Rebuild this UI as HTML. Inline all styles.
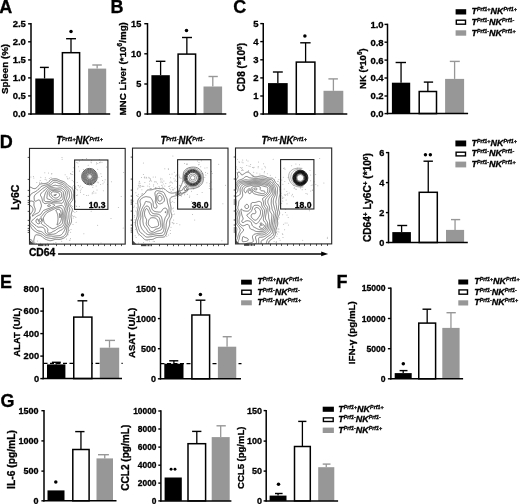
<!DOCTYPE html>
<html><head><meta charset="utf-8"><style>
html,body{margin:0;padding:0;background:#fff;width:520px;height:504px;overflow:hidden}
svg{display:block;filter:grayscale(1)}
text{font-family:"Liberation Sans",sans-serif;fill:#000;stroke:#000;stroke-width:0.3px}
</style></head><body>
<svg width="520" height="504" viewBox="0 0 520 504">
<rect width="520" height="504" fill="#fff"/>
<text x="-0.8" y="12.6" font-size="18" text-anchor="start" font-weight="bold" font-style="normal" >A</text>
<text x="110.5" y="12.7" font-size="18" text-anchor="start" font-weight="bold" font-style="normal" >B</text>
<text x="233.3" y="13.2" font-size="18" text-anchor="start" font-weight="bold" font-style="normal" >C</text>
<text x="-0.2" y="148.4" font-size="18" text-anchor="start" font-weight="bold" font-style="normal" >D</text>
<text x="-0.1" y="288.3" font-size="18" text-anchor="start" font-weight="bold" font-style="normal" >E</text>
<text x="336.5" y="287.9" font-size="18" text-anchor="start" font-weight="bold" font-style="normal" >F</text>
<text x="0.4" y="406.5" font-size="18" text-anchor="start" font-weight="bold" font-style="normal" >G</text>
<line x1="44.55" y1="78.5" x2="44.55" y2="67.4" stroke="#000" stroke-width="1.3" />
<line x1="39.9" y1="67.4" x2="48.8" y2="67.4" stroke="#000" stroke-width="1.4" />
<rect x="35.3" y="78.5" width="18.5" height="35.5" fill="#000"/>
<line x1="71" y1="52.7" x2="71" y2="38.7" stroke="#000" stroke-width="1.3" />
<line x1="66.1" y1="38.7" x2="76" y2="38.7" stroke="#000" stroke-width="1.4" />
<rect x="62.4" y="52.7" width="17.2" height="61.3" fill="#fff" stroke="#000" stroke-width="1.5"/>
<line x1="97.15" y1="68.6" x2="97.15" y2="65" stroke="#979797" stroke-width="1.3" />
<line x1="92.3" y1="65" x2="101.8" y2="65" stroke="#979797" stroke-width="1.4" />
<rect x="88.1" y="68.6" width="18.1" height="45.4" fill="#979797"/>
<line x1="31" y1="23.1" x2="31" y2="114.7" stroke="#000" stroke-width="1.5" />
<line x1="30.3" y1="114" x2="110.2" y2="114" stroke="#000" stroke-width="1.5" />
<line x1="28.1" y1="114" x2="31" y2="114" stroke="#000" stroke-width="1.4" />
<text x="25.9" y="117.4" font-size="9.5" text-anchor="end" font-weight="bold" font-style="normal" >0.0</text>
<line x1="28.1" y1="95.9" x2="31" y2="95.9" stroke="#000" stroke-width="1.4" />
<text x="25.9" y="99.3" font-size="9.5" text-anchor="end" font-weight="bold" font-style="normal" >0.5</text>
<line x1="28.1" y1="77.9" x2="31" y2="77.9" stroke="#000" stroke-width="1.4" />
<text x="25.9" y="81.3" font-size="9.5" text-anchor="end" font-weight="bold" font-style="normal" >1.0</text>
<line x1="28.1" y1="59.9" x2="31" y2="59.9" stroke="#000" stroke-width="1.4" />
<text x="25.9" y="63.3" font-size="9.5" text-anchor="end" font-weight="bold" font-style="normal" >1.5</text>
<line x1="28.1" y1="41.8" x2="31" y2="41.8" stroke="#000" stroke-width="1.4" />
<text x="25.9" y="45.2" font-size="9.5" text-anchor="end" font-weight="bold" font-style="normal" >2.0</text>
<line x1="28.1" y1="23.8" x2="31" y2="23.8" stroke="#000" stroke-width="1.4" />
<text x="25.9" y="27.2" font-size="9.5" text-anchor="end" font-weight="bold" font-style="normal" >2.5</text>
<text transform="translate(7.7,68.9) rotate(-90)" font-size="9.8" text-anchor="middle" font-weight="bold">Spleen (%)</text>
<circle cx="71" cy="31.4" r="1.75" fill="#000"/>
<line x1="160.6" y1="75.2" x2="160.6" y2="61.3" stroke="#000" stroke-width="1.3" />
<line x1="155.9" y1="61.3" x2="165.4" y2="61.3" stroke="#000" stroke-width="1.4" />
<rect x="151.4" y="75.2" width="18.4" height="38.8" fill="#000"/>
<line x1="186.85" y1="54.1" x2="186.85" y2="37.5" stroke="#000" stroke-width="1.3" />
<line x1="182" y1="37.5" x2="192" y2="37.5" stroke="#000" stroke-width="1.4" />
<rect x="178.1" y="54.1" width="17.5" height="59.9" fill="#fff" stroke="#000" stroke-width="1.5"/>
<line x1="212.8" y1="86.5" x2="212.8" y2="76.5" stroke="#979797" stroke-width="1.3" />
<line x1="208.5" y1="76.5" x2="217.8" y2="76.5" stroke="#979797" stroke-width="1.4" />
<rect x="203.5" y="86.5" width="18.6" height="27.5" fill="#979797"/>
<line x1="147.5" y1="23" x2="147.5" y2="114.7" stroke="#000" stroke-width="1.5" />
<line x1="146.8" y1="114" x2="226.3" y2="114" stroke="#000" stroke-width="1.5" />
<line x1="144.3" y1="114" x2="147.5" y2="114" stroke="#000" stroke-width="1.4" />
<text x="141.3" y="117.29" font-size="9.2" text-anchor="end" font-weight="bold" font-style="normal" >0</text>
<line x1="144.3" y1="84" x2="147.5" y2="84" stroke="#000" stroke-width="1.4" />
<text x="141.3" y="87.29" font-size="9.2" text-anchor="end" font-weight="bold" font-style="normal" >5</text>
<line x1="144.3" y1="53.8" x2="147.5" y2="53.8" stroke="#000" stroke-width="1.4" />
<text x="141.3" y="57.09" font-size="9.2" text-anchor="end" font-weight="bold" font-style="normal" >10</text>
<line x1="144.3" y1="23.7" x2="147.5" y2="23.7" stroke="#000" stroke-width="1.4" />
<text x="141.3" y="26.99" font-size="9.2" text-anchor="end" font-weight="bold" font-style="normal" >15</text>
<text transform="translate(125.7,68.85) rotate(-90)" font-size="9.8" text-anchor="middle" font-weight="bold">MNC Liver (*10<tspan font-size="6.5" dy="-3.6">6</tspan><tspan dy="3.6">/mg)</tspan></text>
<circle cx="186.5" cy="30.5" r="1.75" fill="#000"/>
<line x1="277.85" y1="83.1" x2="277.85" y2="72" stroke="#000" stroke-width="1.3" />
<line x1="272.9" y1="72" x2="282.8" y2="72" stroke="#000" stroke-width="1.4" />
<rect x="268" y="83.1" width="19.7" height="30.9" fill="#000"/>
<line x1="305.6" y1="62.1" x2="305.6" y2="42.8" stroke="#000" stroke-width="1.3" />
<line x1="300.2" y1="42.8" x2="310.6" y2="42.8" stroke="#000" stroke-width="1.4" />
<rect x="296.3" y="62.1" width="18.6" height="51.9" fill="#fff" stroke="#000" stroke-width="1.5"/>
<line x1="333.4" y1="90.8" x2="333.4" y2="78.9" stroke="#979797" stroke-width="1.3" />
<line x1="328.4" y1="78.9" x2="337.9" y2="78.9" stroke="#979797" stroke-width="1.4" />
<rect x="323.5" y="90.8" width="19.8" height="23.2" fill="#979797"/>
<line x1="263.25" y1="22.9" x2="263.25" y2="114.7" stroke="#000" stroke-width="1.5" />
<line x1="262.55" y1="114" x2="347.3" y2="114" stroke="#000" stroke-width="1.5" />
<line x1="260.25" y1="114" x2="263.25" y2="114" stroke="#000" stroke-width="1.4" />
<text x="258.65" y="117.4" font-size="9.5" text-anchor="end" font-weight="bold" font-style="normal" >0</text>
<line x1="260.25" y1="96" x2="263.25" y2="96" stroke="#000" stroke-width="1.4" />
<text x="258.65" y="99.4" font-size="9.5" text-anchor="end" font-weight="bold" font-style="normal" >1</text>
<line x1="260.25" y1="77.9" x2="263.25" y2="77.9" stroke="#000" stroke-width="1.4" />
<text x="258.65" y="81.3" font-size="9.5" text-anchor="end" font-weight="bold" font-style="normal" >2</text>
<line x1="260.25" y1="59.8" x2="263.25" y2="59.8" stroke="#000" stroke-width="1.4" />
<text x="258.65" y="63.2" font-size="9.5" text-anchor="end" font-weight="bold" font-style="normal" >3</text>
<line x1="260.25" y1="41.6" x2="263.25" y2="41.6" stroke="#000" stroke-width="1.4" />
<text x="258.65" y="45" font-size="9.5" text-anchor="end" font-weight="bold" font-style="normal" >4</text>
<line x1="260.25" y1="23.6" x2="263.25" y2="23.6" stroke="#000" stroke-width="1.4" />
<text x="258.65" y="27" font-size="9.5" text-anchor="end" font-weight="bold" font-style="normal" >5</text>
<text transform="translate(245.2,67.2) rotate(-90)" font-size="10.1" text-anchor="middle" font-weight="bold">CD8 (*10<tspan font-size="6.5" dy="-3.6">6</tspan><tspan dy="3.6">)</tspan></text>
<circle cx="304.9" cy="36" r="1.75" fill="#000"/>
<line x1="401.05" y1="82.7" x2="401.05" y2="62.5" stroke="#000" stroke-width="1.3" />
<line x1="395.6" y1="62.5" x2="406" y2="62.5" stroke="#000" stroke-width="1.4" />
<rect x="391.9" y="82.7" width="18.3" height="30.9" fill="#000"/>
<line x1="427.85" y1="91.5" x2="427.85" y2="82.1" stroke="#000" stroke-width="1.3" />
<line x1="423.8" y1="82.1" x2="433.1" y2="82.1" stroke="#000" stroke-width="1.4" />
<rect x="419.2" y="91.5" width="17.3" height="22.1" fill="#fff" stroke="#000" stroke-width="1.5"/>
<line x1="454.6" y1="78.9" x2="454.6" y2="61.4" stroke="#979797" stroke-width="1.3" />
<line x1="449.8" y1="61.4" x2="459.8" y2="61.4" stroke="#979797" stroke-width="1.4" />
<rect x="445.1" y="78.9" width="19" height="34.7" fill="#979797"/>
<line x1="387.5" y1="23.7" x2="387.5" y2="114.3" stroke="#000" stroke-width="1.5" />
<line x1="386.8" y1="113.6" x2="468.1" y2="113.6" stroke="#000" stroke-width="1.5" />
<line x1="384.5" y1="113.6" x2="387.5" y2="113.6" stroke="#000" stroke-width="1.4" />
<text x="383.6" y="117" font-size="9.5" text-anchor="end" font-weight="bold" font-style="normal" >0.0</text>
<line x1="384.5" y1="96" x2="387.5" y2="96" stroke="#000" stroke-width="1.4" />
<text x="383.6" y="99.4" font-size="9.5" text-anchor="end" font-weight="bold" font-style="normal" >0.2</text>
<line x1="384.5" y1="78" x2="387.5" y2="78" stroke="#000" stroke-width="1.4" />
<text x="383.6" y="81.4" font-size="9.5" text-anchor="end" font-weight="bold" font-style="normal" >0.4</text>
<line x1="384.5" y1="60.1" x2="387.5" y2="60.1" stroke="#000" stroke-width="1.4" />
<text x="383.6" y="63.5" font-size="9.5" text-anchor="end" font-weight="bold" font-style="normal" >0.6</text>
<line x1="384.5" y1="42.2" x2="387.5" y2="42.2" stroke="#000" stroke-width="1.4" />
<text x="383.6" y="45.6" font-size="9.5" text-anchor="end" font-weight="bold" font-style="normal" >0.8</text>
<line x1="384.5" y1="24.4" x2="387.5" y2="24.4" stroke="#000" stroke-width="1.4" />
<text x="383.6" y="27.8" font-size="9.5" text-anchor="end" font-weight="bold" font-style="normal" >1.0</text>
<text transform="translate(365.7,68.6) rotate(-90)" font-size="9.5" text-anchor="middle" font-weight="bold">NK (*10<tspan font-size="6.5" dy="-3.6">6</tspan><tspan dy="3.6">)</tspan></text>
<rect x="455.6" y="9.2" width="10.6" height="5.3" fill="#000"/>
<text x="471.5" y="14.3" font-size="9.0" font-weight="bold" font-style="italic" text-anchor="start">T<tspan font-size="5.3" dy="-2.95">Prf1+</tspan><tspan dy="2.95">NK</tspan><tspan font-size="5.3" dy="-2.95">Prf1+</tspan></text>
<rect x="456.3" y="20.2" width="9.2" height="4" fill="#fff" stroke="#000" stroke-width="1.4"/>
<text x="471.5" y="24.7" font-size="9.0" font-weight="bold" font-style="italic" text-anchor="start">T<tspan font-size="5.3" dy="-2.95">Prf1-</tspan><tspan dy="2.95">NK</tspan><tspan font-size="5.3" dy="-2.95">Prf1-</tspan></text>
<rect x="455.6" y="30.3" width="10.6" height="5.4" fill="#979797"/>
<text x="471.5" y="35.5" font-size="9.0" font-weight="bold" font-style="italic" text-anchor="start">T<tspan font-size="5.3" dy="-2.95">Prf1-</tspan><tspan dy="2.95">NK</tspan><tspan font-size="5.3" dy="-2.95">Prf1+</tspan></text>
<defs>
<clipPath id="cp0"><rect x="29.5" y="148.4" width="95.7" height="95.7"/></clipPath>
<clipPath id="cp1"><rect x="132.5" y="148.1" width="95.5" height="96.1"/></clipPath>
<clipPath id="cp2"><rect x="235.5" y="148.0" width="96.2" height="95.9"/></clipPath>
</defs>
<g fill="#b0b0b0" clip-path="url(#cp0)"><circle cx="95.9" cy="181.9" r="0.5"/><circle cx="103.3" cy="190.7" r="0.5"/><circle cx="75.6" cy="186.3" r="0.5"/><circle cx="93.0" cy="185.4" r="0.5"/><circle cx="69.4" cy="230.3" r="0.5"/><circle cx="71.3" cy="205.4" r="0.5"/><circle cx="78.5" cy="185.7" r="0.5"/><circle cx="100.7" cy="162.0" r="0.5"/><circle cx="70.5" cy="238.5" r="0.5"/><circle cx="69.4" cy="177.9" r="0.5"/><circle cx="91.6" cy="160.6" r="0.5"/><circle cx="98.2" cy="182.7" r="0.5"/><circle cx="76.6" cy="206.5" r="0.5"/><circle cx="72.7" cy="174.5" r="0.5"/><circle cx="36.3" cy="243.5" r="0.5"/><circle cx="91.0" cy="162.1" r="0.5"/><circle cx="74.8" cy="216.3" r="0.5"/><circle cx="70.5" cy="173.8" r="0.5"/><circle cx="77.2" cy="182.5" r="0.5"/><circle cx="97.6" cy="225.2" r="0.5"/><circle cx="76.1" cy="205.9" r="0.5"/><circle cx="107.5" cy="184.5" r="0.5"/><circle cx="71.3" cy="174.3" r="0.5"/><circle cx="75.2" cy="202.1" r="0.5"/><circle cx="77.9" cy="162.9" r="0.5"/><circle cx="118.4" cy="207.4" r="0.5"/><circle cx="66.5" cy="238.9" r="0.5"/><circle cx="73.8" cy="185.6" r="0.5"/><circle cx="36.8" cy="182.5" r="0.5"/><circle cx="76.9" cy="189.6" r="0.5"/><circle cx="74.9" cy="212.2" r="0.5"/><circle cx="74.6" cy="192.4" r="0.5"/><circle cx="47.7" cy="243.3" r="0.5"/><circle cx="91.3" cy="162.7" r="0.5"/><circle cx="76.4" cy="195.6" r="0.5"/><circle cx="76.1" cy="222.2" r="0.5"/><circle cx="70.7" cy="173.4" r="0.5"/><circle cx="83.9" cy="233.7" r="0.5"/><circle cx="75.9" cy="187.8" r="0.5"/><circle cx="48.5" cy="173.1" r="0.5"/><circle cx="79.3" cy="206.4" r="0.5"/><circle cx="62.1" cy="159.2" r="0.5"/><circle cx="91.4" cy="185.4" r="0.5"/><circle cx="93.3" cy="169.3" r="0.5"/><circle cx="72.5" cy="215.8" r="0.5"/><circle cx="70.1" cy="240.1" r="0.5"/><circle cx="97.8" cy="163.6" r="0.5"/><circle cx="80.4" cy="190.8" r="0.5"/><circle cx="86.5" cy="158.5" r="0.5"/><circle cx="39.7" cy="182.3" r="0.5"/><circle cx="78.6" cy="166.7" r="0.5"/><circle cx="72.8" cy="171.7" r="0.5"/><circle cx="96.1" cy="186.0" r="0.5"/><circle cx="73.0" cy="224.6" r="0.5"/><circle cx="83.4" cy="169.4" r="0.5"/><circle cx="82.3" cy="159.6" r="0.5"/><circle cx="92.2" cy="193.8" r="0.5"/><circle cx="73.3" cy="167.8" r="0.5"/><circle cx="71.0" cy="229.6" r="0.5"/><circle cx="67.7" cy="178.2" r="0.5"/><circle cx="66.9" cy="176.8" r="0.5"/><circle cx="76.7" cy="211.6" r="0.5"/><circle cx="61.7" cy="241.2" r="0.5"/><circle cx="96.5" cy="162.7" r="0.5"/><circle cx="72.5" cy="206.4" r="0.5"/><circle cx="65.1" cy="174.8" r="0.5"/><circle cx="73.7" cy="216.5" r="0.5"/><circle cx="45.1" cy="179.5" r="0.5"/><circle cx="101.0" cy="243.0" r="0.5"/><circle cx="77.6" cy="189.9" r="0.5"/><circle cx="67.9" cy="179.0" r="0.5"/><circle cx="77.5" cy="195.0" r="0.5"/><circle cx="79.4" cy="160.9" r="0.5"/><circle cx="106.5" cy="166.9" r="0.5"/><circle cx="79.4" cy="187.1" r="0.5"/><circle cx="33.8" cy="178.1" r="0.5"/><circle cx="88.2" cy="165.3" r="0.5"/><circle cx="39.6" cy="183.5" r="0.5"/><circle cx="75.3" cy="187.9" r="0.5"/><circle cx="53.7" cy="243.2" r="0.5"/><circle cx="111.0" cy="218.5" r="0.5"/><circle cx="30.9" cy="177.0" r="0.5"/><circle cx="105.1" cy="179.8" r="0.5"/><circle cx="93.7" cy="191.2" r="0.5"/><circle cx="102.0" cy="162.2" r="0.5"/><circle cx="35.0" cy="242.8" r="0.5"/><circle cx="51.8" cy="173.5" r="0.5"/><circle cx="44.8" cy="172.7" r="0.5"/><circle cx="45.3" cy="177.8" r="0.5"/><circle cx="99.9" cy="162.8" r="0.5"/><circle cx="72.3" cy="186.9" r="0.5"/><circle cx="92.3" cy="192.8" r="0.5"/><circle cx="97.7" cy="169.3" r="0.5"/><circle cx="100.9" cy="173.7" r="0.5"/><circle cx="98.8" cy="177.3" r="0.5"/><circle cx="69.4" cy="240.2" r="0.5"/><circle cx="97.9" cy="182.1" r="0.5"/><circle cx="76.8" cy="162.4" r="0.5"/><circle cx="104.1" cy="181.9" r="0.5"/><circle cx="75.9" cy="217.5" r="0.5"/><circle cx="49.3" cy="178.6" r="0.5"/><circle cx="82.7" cy="159.4" r="0.5"/><circle cx="99.6" cy="162.6" r="0.5"/><circle cx="93.9" cy="192.9" r="0.5"/><circle cx="78.1" cy="185.5" r="0.5"/><circle cx="62.0" cy="157.4" r="0.5"/><circle cx="96.4" cy="164.0" r="0.5"/><circle cx="94.1" cy="180.8" r="0.5"/><circle cx="40.5" cy="243.2" r="0.5"/><circle cx="72.2" cy="180.4" r="0.5"/><circle cx="72.5" cy="187.1" r="0.5"/><circle cx="99.3" cy="159.8" r="0.5"/><circle cx="97.0" cy="189.9" r="0.5"/><circle cx="80.5" cy="192.3" r="0.5"/><circle cx="41.7" cy="182.4" r="0.5"/><circle cx="68.1" cy="234.7" r="0.5"/><circle cx="102.6" cy="180.4" r="0.5"/><circle cx="91.2" cy="211.2" r="0.5"/><circle cx="79.4" cy="171.0" r="0.5"/><circle cx="37.5" cy="240.9" r="0.5"/><circle cx="51.7" cy="174.0" r="0.5"/><circle cx="86.1" cy="209.6" r="0.5"/><circle cx="82.7" cy="187.6" r="0.5"/><circle cx="95.9" cy="193.1" r="0.5"/><circle cx="51.0" cy="177.6" r="0.5"/><circle cx="74.4" cy="175.5" r="0.5"/><circle cx="73.5" cy="211.2" r="0.5"/><circle cx="46.7" cy="180.0" r="0.5"/><circle cx="111.4" cy="181.7" r="0.5"/><circle cx="80.7" cy="186.1" r="0.5"/><circle cx="40.8" cy="177.2" r="0.5"/><circle cx="81.1" cy="188.9" r="0.5"/><circle cx="103.0" cy="183.8" r="0.5"/><circle cx="75.4" cy="201.0" r="0.5"/><circle cx="73.4" cy="181.8" r="0.5"/><circle cx="123.2" cy="227.9" r="0.5"/><circle cx="73.2" cy="217.9" r="0.5"/><circle cx="101.6" cy="176.5" r="0.5"/><circle cx="55.9" cy="242.5" r="0.5"/><circle cx="40.2" cy="180.6" r="0.5"/><circle cx="100.6" cy="184.4" r="0.5"/><circle cx="75.6" cy="188.5" r="0.5"/><circle cx="33.4" cy="176.6" r="0.5"/><circle cx="88.3" cy="195.2" r="0.5"/><circle cx="121.2" cy="196.5" r="0.5"/><circle cx="123.7" cy="172.5" r="0.5"/><circle cx="70.6" cy="232.2" r="0.5"/><circle cx="83.8" cy="194.5" r="0.5"/><circle cx="92.8" cy="187.3" r="0.5"/><circle cx="86.6" cy="195.6" r="0.5"/></g>
<path clip-path="url(#cp0)" d="M26.5,199.7L26.7,199.1L26.9,198.7L27.1,198.1L27.2,197.7L27.5,197.1L27.6,196.7L27.8,196.2L28.0,195.7L28.2,195.4L28.4,194.7L28.6,194.4L28.8,193.7L29.0,193.4L29.2,192.8L29.3,192.4L29.5,191.7L29.5,191.4L29.6,190.7L29.6,190.1L29.5,189.4L29.5,189.1L29.3,188.4L29.3,187.7L29.6,187.4L30.2,187.2L30.8,187.3L31.2,187.5L31.7,187.7L32.2,188.0L32.5,188.2L33.0,188.4L33.5,188.5L34.2,188.6L34.8,188.6L35.5,188.4L35.8,188.3L36.2,188.1L36.6,187.7L37.0,187.4L37.3,187.1L37.6,186.7L37.9,186.4L38.2,186.0L38.5,185.6L38.8,185.2L39.2,184.9L39.5,184.6L39.8,184.4L40.4,184.1L40.8,183.9L41.5,183.8L42.1,183.7L42.5,183.7L43.2,183.7L43.8,183.6L44.5,183.6L45.2,183.5L45.7,183.4L46.2,183.3L46.8,183.1L47.2,183.0L47.8,182.7L48.2,182.5L48.5,182.2L48.8,181.9L49.2,181.5L49.4,181.1L49.7,180.7L49.9,180.4L50.2,180.1L50.5,179.7L51.0,179.4L51.5,179.2L52.0,179.1L52.5,179.0L53.2,178.9L53.8,178.9L54.5,178.8L55.2,178.8L55.8,178.8L56.5,178.9L57.1,179.1L57.5,179.2L58.0,179.4L58.5,179.6L58.8,179.8L59.5,180.1L59.8,180.2L60.2,180.4L60.8,180.6L61.2,180.7L61.8,181.0L62.2,181.1L62.8,181.3L63.2,181.4L63.8,181.7L64.2,181.9L64.5,182.1L64.9,182.4L65.3,182.7L65.7,183.1L66.1,183.4L66.4,183.7L66.7,184.1L67.0,184.4L67.3,184.7L67.7,185.1L68.1,185.4L68.5,185.7L68.8,186.0L69.2,186.2L69.5,186.4L70.1,186.7L70.5,187.0L70.8,187.2L71.2,187.5L71.5,187.8L71.8,188.1L72.2,188.5L72.5,189.0L72.7,189.4L72.9,189.7L73.2,190.4L73.3,190.7L73.4,191.4L73.5,191.8L73.6,192.4L73.6,193.1L73.7,193.7L73.6,194.4L73.6,195.1L73.5,195.7L73.5,196.1L73.4,196.7L73.3,197.4L73.2,198.1L73.1,198.4L73.0,199.1L72.8,199.5L72.6,200.1L72.4,200.4L72.2,200.8L71.8,201.2L71.5,201.5L71.2,201.9L70.8,202.2L70.5,202.7L70.2,203.1L70.1,203.4L69.9,204.1L69.9,204.7L70.0,205.4L70.2,205.7L70.5,206.3L70.8,206.7L71.1,207.1L71.4,207.4L71.7,207.7L71.9,208.1L72.2,208.5L72.3,209.1L72.4,209.7L72.3,210.4L72.2,210.9L72.0,211.4L71.8,212.0L71.7,212.4L71.5,213.1L71.4,213.4L71.3,214.1L71.2,214.7L71.1,215.1L71.1,215.7L71.0,216.4L71.1,217.1L71.1,217.7L71.2,218.1L71.3,218.7L71.4,219.4L71.5,220.1L71.5,220.4L71.5,221.0L71.5,221.4L71.3,222.1L71.2,222.5L70.9,223.1L70.8,223.4L70.5,224.0L70.3,224.4L70.1,224.7L69.8,225.2L69.5,225.7L69.3,226.1L69.1,226.4L68.8,226.9L68.6,227.4L68.5,227.8L68.3,228.4L68.2,229.1L68.2,229.7L68.2,230.4L68.2,231.0L68.1,231.4L68.1,232.1L67.9,232.7L67.8,233.1L67.6,233.7L67.5,234.1L67.2,234.7L67.0,235.1L66.8,235.4L66.5,235.9L66.2,236.3L65.8,236.7L65.5,237.0L65.2,237.3L64.8,237.5L64.5,237.7L63.9,238.1L63.5,238.2L63.1,238.4L62.5,238.6L62.2,238.8L61.5,239.0L61.2,239.1L60.5,239.3L60.1,239.4L59.5,239.5L58.8,239.5L58.2,239.5L57.5,239.4L57.1,239.4L56.5,239.4L55.8,239.4L55.5,239.4L54.8,239.5L54.2,239.7L53.8,239.8L53.2,240.0L52.8,240.1L52.2,240.4L51.8,240.5L51.2,240.6L50.5,240.7L49.8,240.7L49.2,240.6L48.6,240.4L48.2,240.3L47.6,240.1L47.2,239.9L46.7,239.7L46.2,239.5L45.8,239.4L45.2,239.1L44.8,238.8L44.5,238.6L44.2,238.4L43.7,238.1L43.4,237.7L43.0,237.4L42.6,237.1L42.2,236.7L41.8,236.4L41.5,236.2L41.2,236.0L40.6,235.7L40.2,235.5L39.8,235.4L39.2,235.2L38.6,235.1L38.2,235.0L37.5,234.9L36.8,234.8L36.2,234.8L35.5,235.1L35.2,235.4L35.0,235.7L34.8,236.1L34.7,236.7L34.5,237.4L34.4,237.7L34.2,238.4L34.2,238.7L34.0,239.4L33.9,240.1L33.8,240.6L33.8,241.1L33.8,241.7L33.8,242.1L33.9,242.7L34.0,243.4L34.0,244.1L34.0,244.7L33.9,245.4L33.8,245.8L33.7,246.4L33.5,246.9L33.2,247.4 M26.5,241.4L26.8,241.1L27.2,240.7L27.5,240.4L27.7,240.1L28.0,239.7L28.2,239.3L28.4,238.7L28.4,238.1L28.4,237.4L28.2,236.8L28.0,236.4L27.8,235.8L27.7,235.4L27.6,234.7L27.6,234.1L27.8,233.4L27.9,233.1L28.1,232.4L28.2,232.1L28.5,231.4L28.6,231.1L28.8,230.5L29.0,230.1L29.2,229.6L29.3,229.1L29.4,228.4L29.3,227.7L29.2,227.1L29.1,226.7L28.9,226.1L28.7,225.7L28.5,225.3L28.2,224.7L28.1,224.4L27.8,223.8L27.7,223.4L27.6,222.7L27.5,222.1L27.6,221.4L27.7,220.7L27.8,220.2L28.0,219.7L28.1,219.1L28.2,218.7L28.2,218.1L28.2,217.4L28.1,217.1L27.9,216.4L27.7,216.1L27.5,215.6L27.2,215.1L27.0,214.7L26.8,214.4L26.5,213.9 M26.5,204.1L26.6,203.7L26.8,203.1L26.9,202.7L27.1,202.1L27.3,201.7L27.5,201.2L27.7,200.7L27.9,200.4L28.2,199.8L28.4,199.4L28.5,199.1L28.8,198.4L29.0,198.1L29.2,197.6L29.4,197.1L29.5,196.7L29.8,196.1L30.0,195.7L30.2,195.4L30.5,194.9L30.8,194.4L31.2,194.1L31.5,193.7L31.8,193.5L32.2,193.2L32.5,193.1L33.1,192.7L33.5,192.5L33.8,192.4L34.5,192.1L34.8,191.9L35.2,191.7L35.7,191.4L36.2,191.1L36.5,190.9L36.8,190.7L37.2,190.4L37.6,190.1L38.0,189.7L38.4,189.4L38.8,189.1L39.1,188.7L39.4,188.4L39.7,188.1L40.0,187.7L40.3,187.4L40.7,187.1L41.0,186.7L41.5,186.4L41.8,186.2L42.2,186.0L42.8,185.8L43.2,185.7L43.8,185.5L44.2,185.4L44.8,185.2L45.5,185.1L45.8,185.0L46.5,184.8L46.9,184.7L47.5,184.6L48.0,184.4L48.5,184.2L48.9,184.1L49.5,183.7L49.8,183.5L50.2,183.2L50.5,182.8L50.8,182.4L51.1,182.1L51.4,181.7L51.7,181.4L52.2,181.1L52.5,180.9L52.9,180.7L53.5,180.6L54.2,180.4L54.8,180.4L55.2,180.4L55.5,180.4L56.2,180.5L56.8,180.6L57.2,180.7L57.8,181.0L58.2,181.2L58.7,181.4L59.2,181.6L59.5,181.8L60.2,182.0L60.5,182.1L61.2,182.3L61.5,182.4L62.2,182.6L62.5,182.8L63.2,183.1L63.5,183.2L63.8,183.5L64.2,183.7L64.6,184.1L64.9,184.4L65.2,184.7L65.5,185.1L65.8,185.5L66.2,185.9L66.5,186.2L66.8,186.6L67.2,186.9L67.5,187.1L67.9,187.4L68.3,187.7L68.8,188.1L69.2,188.4L69.5,188.7L69.8,189.0L70.1,189.4L70.4,189.7L70.5,190.1L70.8,190.7L71.0,191.1L71.2,191.7L71.3,192.1L71.5,192.7L71.5,193.1L71.7,193.7L71.8,194.4L71.8,195.1L71.8,195.7L71.7,196.4L71.6,197.1L71.5,197.7L71.4,198.1L71.2,198.6L70.9,199.1L70.7,199.4L70.5,199.7L70.2,200.2L69.8,200.6L69.5,201.0L69.2,201.4L69.0,201.7L68.7,202.1L68.5,202.5L68.3,203.1L68.2,203.5L68.1,204.1L68.1,204.7L68.2,205.1L68.4,205.7L68.5,206.1L68.8,206.7L69.0,207.1L69.2,207.5L69.4,208.1L69.6,208.4L69.8,209.1L69.8,209.7L69.7,210.4L69.5,210.9L69.3,211.4L69.2,211.9L69.0,212.4L68.9,213.1L68.9,213.7L68.9,214.4L68.9,215.1L68.9,215.7L68.9,216.4L68.9,217.1L68.9,217.7L69.0,218.4L69.1,219.1L69.2,219.4L69.4,220.1L69.5,220.7L69.5,221.1L69.5,221.7L69.5,222.1L69.3,222.7L69.2,223.2L69.0,223.7L68.8,224.1L68.5,224.6L68.2,225.1L68.0,225.4L67.8,225.8L67.5,226.4L67.3,226.7L67.2,227.1L66.9,227.7L66.8,228.1L66.7,228.7L66.6,229.4L66.5,230.0L66.5,230.4L66.4,231.1L66.3,231.7L66.2,232.4L66.1,232.7L65.8,233.4L65.7,233.7L65.5,234.1L65.2,234.6L64.8,235.0L64.5,235.4L64.2,235.7L63.8,236.0L63.5,236.3L63.2,236.5L62.8,236.7L62.2,237.0L61.8,237.1L61.2,237.4L60.8,237.5L60.2,237.6L59.5,237.7L58.8,237.7L58.2,237.7L57.5,237.7L56.8,237.7L56.2,237.7L55.8,237.8L55.2,237.9L54.5,238.0L54.1,238.1L53.5,238.2L52.8,238.3L52.3,238.4L51.8,238.5L51.2,238.5L50.5,238.4L50.2,238.3L49.5,238.2L48.9,238.1L48.5,238.0L47.8,237.9L47.2,237.8L46.8,237.7L46.2,237.4L45.8,237.3L45.4,237.1L44.9,236.7L44.5,236.4L44.2,236.1L43.8,235.8L43.5,235.5L43.2,235.2L42.8,234.9L42.5,234.7L42.1,234.4L41.5,234.1L41.2,233.9L40.7,233.7L40.2,233.6L39.6,233.4L39.2,233.3L38.5,233.1L38.2,233.0L37.5,232.7L37.2,232.6L36.8,232.4L36.2,232.1L35.8,231.9L35.5,231.6L35.2,231.4L34.7,231.1L34.2,230.7L33.8,230.4L33.5,230.2L33.2,229.9L32.8,229.7L32.5,229.4L32.2,229.0L31.8,228.4L31.6,228.1L31.4,227.7L31.2,227.3L30.8,226.8L30.6,226.4L30.4,226.1L30.1,225.7L29.8,225.3L29.5,224.8L29.3,224.4L29.1,224.1L28.8,223.4L28.7,223.1L28.6,222.4L28.6,221.7L28.6,221.1L28.8,220.4L28.9,220.1L29.0,219.4L29.2,218.8L29.2,218.4L29.3,217.7L29.2,217.1L29.1,216.7L28.9,216.1L28.8,215.7L28.5,215.2L28.2,214.7L28.0,214.4L27.8,214.1L27.5,213.4L27.3,213.1L27.2,212.7L27.0,212.1L26.8,211.7L26.7,211.1L26.5,210.4 M26.5,242.8L26.8,242.4L27.1,242.1L27.5,241.7L27.8,241.4L28.2,241.2L28.5,240.9L28.8,240.6L29.2,240.4L29.7,240.1L30.2,239.7L30.5,239.6L31.2,239.6L31.5,239.9L31.8,240.4L32.0,240.7L32.2,241.1L32.4,241.7L32.5,242.1L32.7,242.7L32.8,243.3L32.9,243.7L33.0,244.4L33.0,245.1L32.9,245.7L32.8,246.1L32.5,246.7L32.3,247.1L32.1,247.4 M55.2,236.1L54.5,236.2L53.8,236.3L53.2,236.3L52.5,236.3L51.8,236.2L51.2,236.1L50.7,236.1L50.2,236.0L49.5,236.0L48.8,235.9L48.2,235.9L47.5,235.8L47.1,235.7L46.5,235.6L46.1,235.4L45.6,235.1L45.2,234.8L44.8,234.5L44.5,234.2L44.2,233.9L43.8,233.5L43.5,233.2L43.2,232.9L42.8,232.6L42.5,232.3L42.2,232.0L41.6,231.7L41.2,231.5L40.6,231.4L40.2,231.3L39.5,231.2L38.9,231.1L38.5,230.9L37.9,230.7L37.5,230.5L37.2,230.3L36.8,230.1L36.4,229.7L36.0,229.4L35.7,229.1L35.4,228.7L35.1,228.4L34.8,228.0L34.5,227.6L34.2,227.2L33.8,226.9L33.5,226.5L33.2,226.2L32.8,225.9L32.5,225.7L32.1,225.4L31.7,225.1L31.2,224.7L30.9,224.4L30.5,224.1L30.3,223.7L30.1,223.4L29.8,222.8L29.7,222.4L29.6,221.7L29.7,221.1L29.8,220.4L29.9,220.1L30.1,219.4L30.2,219.1L30.4,218.4L30.5,217.7L30.4,217.1L30.2,216.4L30.1,216.1L29.8,215.5L29.6,215.1L29.5,214.7L29.2,214.2L28.9,213.7L28.7,213.4L28.5,212.9L28.3,212.4L28.2,212.1L28.0,211.4L27.8,210.8L27.8,210.4L27.7,209.7L27.7,209.1L27.7,208.4L27.7,207.7L27.7,207.1L27.8,206.4L27.8,205.7L27.9,205.4L28.0,204.7L28.1,204.1L28.3,203.7L28.5,203.1L28.7,202.7L28.9,202.4L29.2,202.0L29.5,201.7L29.8,201.4L30.5,201.1L30.8,201.0L31.5,201.0L31.8,201.1L32.5,201.3L32.8,201.4L33.5,201.6L33.8,201.8L34.0,202.4L34.0,203.1L34.0,203.7L33.9,204.4L33.9,205.1L34.0,205.7L34.2,206.2L34.4,206.7L34.5,207.1L34.7,207.7L34.9,208.1L35.1,208.7L35.2,209.2L35.2,209.7L35.2,210.4L35.1,210.7L35.0,211.4L34.8,211.7L34.5,212.4L34.3,212.7L34.1,213.1L33.8,213.4L33.5,213.8L33.2,214.3L32.8,214.7L32.6,215.1L32.5,215.4L32.4,216.1L32.8,216.1L33.2,215.9L33.5,215.6L33.8,215.4L34.2,215.1L34.6,214.7L35.0,214.4L35.5,214.1L35.8,213.9L36.3,213.7L36.8,213.5L37.2,213.3L37.7,213.1L38.2,212.8L38.5,212.6L38.8,212.3L39.2,211.9L39.5,211.4L39.7,211.1L39.8,210.6L40.0,210.1L40.2,209.7L40.4,209.1L40.5,208.7L40.8,208.1L40.9,207.7L41.1,207.1L41.3,206.7L41.4,206.1L41.4,205.4L41.3,204.7L41.2,204.1L41.0,203.7L40.8,203.1L40.7,202.7L40.5,202.1L40.4,201.7L40.2,201.1L40.0,200.7L39.8,200.4L39.4,200.1L38.8,199.9L38.2,200.1L37.8,200.2L37.5,200.4L36.8,200.7L36.5,200.9L35.9,201.1L35.5,201.2L34.8,201.1L34.5,200.7L34.4,200.4L34.3,199.7L34.2,199.1L34.2,198.7L34.1,198.1L34.1,197.4L34.2,197.0L34.3,196.4L34.5,195.9L34.7,195.4L35.0,195.1L35.2,194.7L35.5,194.4L35.9,194.1L36.4,193.7L36.8,193.4L37.2,193.1L37.5,192.9L37.8,192.6L38.2,192.4L38.5,192.1L38.9,191.7L39.3,191.4L39.7,191.1L40.1,190.7L40.5,190.4L40.8,190.1L41.2,189.8L41.5,189.5L41.8,189.3L42.2,189.0L42.5,188.7L43.0,188.4L43.4,188.1L43.8,187.8L44.2,187.6L44.5,187.4L45.0,187.1L45.5,186.8L45.8,186.7L46.4,186.4L46.8,186.2L47.3,186.1L47.8,185.9L48.3,185.7L48.8,185.6L49.4,185.4L49.8,185.2L50.3,185.1L50.8,184.8L51.2,184.6L51.5,184.3L51.8,184.1L52.2,183.7L52.5,183.4L52.9,183.1L53.3,182.7L53.8,182.5L54.2,182.3L54.8,182.2L55.5,182.2L56.2,182.3L56.6,182.4L57.2,182.6L57.5,182.8L58.1,183.1L58.5,183.3L58.8,183.4L59.5,183.6L59.9,183.7L60.5,183.9L61.2,184.0L61.5,184.1L62.2,184.4L62.5,184.5L62.9,184.7L63.3,185.1L63.7,185.4L64.1,185.7L64.4,186.1L64.7,186.4L65.0,186.7L65.3,187.1L65.6,187.4L66.0,187.7L66.4,188.1L66.8,188.4L67.2,188.7L67.5,189.0L67.8,189.4L68.1,189.7L68.4,190.1L68.6,190.4L68.8,191.1L68.9,191.4L69.1,192.1L69.2,192.6L69.2,193.1L69.3,193.7L69.4,194.4L69.5,195.1L69.5,195.7L69.5,196.4L69.4,197.1L69.2,197.7L69.0,198.1L68.8,198.5L68.5,199.1L68.3,199.4L68.1,199.7L67.8,200.2L67.5,200.7L67.4,201.1L67.2,201.5L66.9,202.1L66.8,202.4L66.7,203.1L66.6,203.7L66.6,204.4L66.7,205.1L66.8,205.7L66.9,206.1L67.2,206.7L67.3,207.1L67.5,207.7L67.6,208.1L67.7,208.7L67.7,209.4L67.5,210.1L67.5,210.4L67.3,211.1L67.2,211.4L67.0,212.1L66.8,212.7L66.8,213.1L66.7,213.7L66.7,214.4L66.8,215.1L66.8,215.7L66.8,216.1L66.9,216.7L66.9,217.4L66.9,218.1L67.0,218.7L67.1,219.4L67.2,219.7L67.3,220.4L67.5,221.1L67.5,221.4L67.6,222.1L67.6,222.7L67.5,223.1L67.3,223.7L67.2,224.1L66.9,224.7L66.7,225.1L66.5,225.5L66.2,226.1L66.1,226.4L65.8,227.0L65.6,227.4L65.5,227.8L65.3,228.4L65.1,228.7L64.9,229.4L64.8,229.7L64.5,230.4L64.3,230.7L64.2,231.1L63.8,231.6L63.5,232.1L63.3,232.4L63.1,232.7L62.8,233.1L62.5,233.5L62.2,233.9L61.8,234.3L61.5,234.6L61.2,234.9L60.8,235.1L60.2,235.4L59.8,235.5L59.2,235.7L58.6,235.7L58.2,235.8L57.5,235.8L56.8,235.9L56.2,235.9L55.5,236.0L55.2,236.1 M49.2,206.4L49.8,206.2L50.2,206.0L50.5,205.7L50.5,205.3L50.2,205.0L49.5,204.8L48.8,204.8L48.2,205.0L47.8,205.3L47.5,205.7L47.8,206.3L48.2,206.4L48.8,206.4L49.2,206.4 M28.2,247.4L27.8,247.2L27.5,246.9L27.2,246.6L26.9,246.1L26.7,245.7L26.6,245.1L26.7,244.4L26.8,243.9L27.1,243.4L27.3,243.1L27.6,242.7L28.0,242.4L28.5,242.1L28.8,241.9L29.2,241.7L29.8,241.6L30.5,241.7L30.8,241.9L31.2,242.2L31.5,242.6L31.7,243.1L31.9,243.4L32.0,244.1L32.1,244.7L32.0,245.4L31.8,246.0L31.6,246.4L31.4,246.7L31.1,247.1L30.5,247.4 M50.5,234.4L49.8,234.4L49.2,234.4L48.6,234.4L48.2,234.3L47.5,234.2L47.1,234.1L46.5,233.7L46.2,233.4L45.8,233.1L45.6,232.7L45.4,232.4L45.2,231.7L45.1,231.4L45.1,230.7L45.0,230.1L44.8,229.5L44.6,229.1L44.4,228.7L44.2,228.4L43.8,228.1L43.3,227.7L42.8,227.5L42.5,227.4L41.8,227.2L41.2,227.1L40.8,227.1L40.5,227.1L39.8,227.1L39.2,227.2L38.5,227.2L38.1,227.1L37.5,226.8L37.2,226.6L36.8,226.4L36.5,226.1L36.1,225.7L35.6,225.4L35.2,225.1L34.8,224.8L34.5,224.5L34.2,224.3L33.8,224.0L33.4,223.7L33.0,223.4L32.5,223.1L32.2,222.8L31.8,222.4L31.6,222.1L31.5,221.7L31.5,221.3L31.8,220.7L32.1,220.4L32.5,220.1L32.8,219.9L33.2,219.6L33.5,219.3L33.8,219.0L34.2,218.7L34.5,218.4L34.8,218.0L35.2,217.7L35.5,217.4L35.9,217.1L36.3,216.7L36.7,216.4L37.2,216.1L37.5,215.9L37.9,215.7L38.5,215.4L38.8,215.3L39.4,215.1L39.8,214.8L40.2,214.6L40.5,214.4L40.9,214.1L41.2,213.7L41.5,213.3L41.8,212.7L42.0,212.4L42.2,212.1L42.5,211.6L42.8,211.2L43.2,210.8L43.5,210.6L43.8,210.3L44.4,210.1L44.8,209.9L45.3,209.7L45.8,209.5L46.2,209.4L46.8,209.1L47.2,209.0L47.8,208.8L48.2,208.6L48.8,208.4L49.2,208.3L49.8,208.1L50.2,207.9L50.7,207.7L51.2,207.6L51.6,207.4L52.2,207.1L52.5,207.0L52.9,206.7L53.5,206.4L53.8,206.2L54.2,205.9L54.5,205.5L54.6,205.1L54.4,204.7L53.8,204.4L53.5,204.3L53.1,204.1L52.5,203.9L52.2,203.7L51.5,203.5L51.2,203.4L50.5,203.2L49.8,203.1L49.5,203.0L48.8,203.0L48.2,203.0L47.8,203.1L47.2,203.2L46.5,203.4L46.2,203.5L45.5,203.6L44.8,203.5L44.3,203.4L43.8,203.1L43.5,202.8L43.2,202.4L42.9,202.1L42.8,201.7L42.5,201.1L42.4,200.7L42.3,200.1L42.2,199.5L42.1,199.1L41.9,198.4L41.8,198.0L41.6,197.4L41.4,197.1L41.2,196.6L40.8,196.1L40.6,195.7L40.5,195.4L40.5,194.7L40.5,194.4L40.8,193.8L41.1,193.4L41.4,193.1L41.7,192.7L42.1,192.4L42.4,192.1L42.8,191.7L43.2,191.4L43.5,191.2L43.8,190.9L44.2,190.5L44.5,190.2L44.8,189.9L45.2,189.6L45.5,189.2L45.8,188.9L46.2,188.6L46.5,188.3L46.8,188.0L47.2,187.7L47.8,187.4L48.2,187.3L48.6,187.1L49.2,186.9L49.7,186.7L50.2,186.6L50.8,186.4L51.2,186.4L51.8,186.2L52.2,186.1L52.8,185.9L53.2,185.7L53.8,185.5L54.2,185.4L54.8,185.3L55.5,185.2L56.2,185.4L56.5,185.5L57.2,185.6L57.8,185.7L58.2,185.8L58.8,185.8L59.5,185.8L60.2,185.8L60.8,185.9L61.5,186.1L61.8,186.2L62.2,186.4L62.7,186.7L63.2,187.1L63.5,187.3L63.8,187.6L64.2,188.0L64.5,188.3L64.8,188.6L65.2,188.9L65.5,189.2L65.8,189.5L66.2,189.8L66.5,190.2L66.8,190.7L67.0,191.1L67.2,191.6L67.3,192.1L67.3,192.7L67.3,193.4L67.3,194.1L67.2,194.7L67.2,195.1L67.1,195.7L67.0,196.4L66.8,196.9L66.7,197.4L66.5,198.1L66.4,198.4L66.2,199.1L66.1,199.4L65.9,200.1L65.8,200.4L65.6,201.1L65.5,201.4L65.3,202.1L65.2,202.5L65.0,203.1L64.9,203.7L64.9,204.4L65.0,205.1L65.2,205.6L65.3,206.1L65.5,206.5L65.7,207.1L65.8,207.4L66.0,208.1L66.1,208.7L66.1,209.4L66.0,210.1L65.8,210.5L65.7,211.1L65.5,211.6L65.4,212.1L65.2,212.7L65.2,213.2L65.1,213.7L65.1,214.4L65.2,214.7L65.2,215.4L65.3,216.1L65.3,216.7L65.4,217.4L65.4,218.1L65.4,218.7L65.5,219.4L65.5,219.7L65.7,220.4L65.8,221.1L65.8,221.4L65.9,222.1L65.9,222.7L65.8,223.3L65.7,223.7L65.5,224.4L65.4,224.7L65.2,225.3L64.9,225.7L64.8,226.1L64.5,226.6L64.2,227.1L64.1,227.4L63.8,227.8L63.5,228.2L63.2,228.6L62.8,229.0L62.5,229.3L62.2,229.5L61.8,229.7L61.2,230.1L60.8,230.2L60.5,230.4L59.8,230.7L59.5,230.9L59.2,231.1L58.7,231.4L58.2,231.7L57.8,232.1L57.5,232.3L57.2,232.6L56.8,232.8L56.5,233.1L55.9,233.4L55.5,233.6L55.2,233.7L54.5,233.9L54.0,234.1L53.5,234.2L52.8,234.2L52.2,234.3L51.5,234.3L50.8,234.4L50.5,234.4 M30.5,214.4L30.2,213.7L30.0,213.4L29.8,213.1L29.5,212.4L29.4,212.1L29.2,211.4L29.1,211.1L29.0,210.4L28.9,209.7L29.0,209.1L29.0,208.4L29.2,207.8L29.3,207.4L29.5,206.8L29.7,206.4L29.9,206.1L30.2,205.7L30.8,205.7L31.2,205.9L31.5,206.2L31.8,206.7L32.1,207.1L32.3,207.4L32.5,207.7L32.8,208.4L32.9,208.7L33.0,209.4L32.9,210.1L32.8,210.5L32.6,211.1L32.4,211.4L32.2,211.8L31.8,212.3L31.6,212.7L31.3,213.1L31.1,213.4L30.8,213.8L30.5,214.4 M40.9,221.4L41.3,221.1L41.5,220.7L41.6,220.1L41.5,219.7L41.2,219.1L40.8,218.8L40.5,218.7L39.9,218.7L39.5,218.9L39.2,219.4L39.1,219.7L39.1,220.4L39.3,220.7L39.5,221.1L39.9,221.4L40.5,221.6L40.9,221.4 M30.2,246.5L29.5,246.6L28.8,246.5L28.5,246.4L28.1,246.1L27.8,245.7L27.6,245.1L27.6,244.4L27.8,243.8L28.1,243.4L28.5,243.1L28.8,242.9L29.2,242.7L29.8,242.7L30.2,242.8L30.6,243.1L30.9,243.4L31.2,244.0L31.2,244.4L31.2,245.1L31.1,245.4L30.8,245.9L30.5,246.2L30.2,246.5 M62.2,203.1L61.5,203.3L60.8,203.3L60.2,203.1L59.8,203.1L59.2,203.0L58.5,203.0L57.8,203.0L57.2,203.0L56.5,203.0L55.8,203.0L55.2,203.0L54.5,202.9L53.8,202.8L53.3,202.7L52.8,202.6L52.2,202.4L51.8,202.3L51.2,202.1L50.8,201.9L50.2,201.7L49.8,201.6L49.2,201.5L48.5,201.5L47.8,201.5L47.2,201.6L46.5,201.6L45.8,201.6L45.2,201.4L44.8,201.2L44.5,200.9L44.2,200.4L44.1,200.1L44.0,199.4L44.0,198.7L44.0,198.1L44.1,197.4L44.2,197.1L44.3,196.4L44.5,195.8L44.6,195.4L44.8,194.7L44.9,194.4L45.1,193.7L45.3,193.4L45.5,192.9L45.7,192.4L45.9,192.1L46.2,191.6L46.5,191.1L46.7,190.7L46.9,190.4L47.2,190.1L47.5,189.7L47.8,189.3L48.2,189.0L48.5,188.7L49.1,188.4L49.5,188.2L50.0,188.1L50.5,187.9L51.2,187.8L51.8,187.8L52.3,187.7L52.8,187.7L53.2,187.7L53.8,187.8L54.5,187.9L55.2,188.0L55.5,188.1L56.2,188.2L56.8,188.2L57.5,188.2L58.2,188.1L58.7,188.1L59.2,188.0L59.8,187.9L60.5,187.9L61.2,188.0L61.5,188.2L62.0,188.4L62.5,188.7L62.8,188.9L63.2,189.2L63.5,189.5L63.8,189.8L64.2,190.1L64.5,190.5L64.8,190.9L65.1,191.4L65.2,191.7L65.4,192.4L65.4,193.1L65.4,193.7L65.2,194.4L65.2,194.8L65.0,195.4L64.9,196.1L64.8,196.4L64.7,197.1L64.6,197.7L64.5,198.4L64.5,198.7L64.3,199.4L64.2,200.0L64.0,200.4L63.8,200.9L63.6,201.4L63.4,201.7L63.2,202.1L62.8,202.6L62.5,202.9L62.2,203.1 M49.8,233.1L49.2,233.1L48.8,233.1L48.2,232.8L47.8,232.5L47.6,232.1L47.6,231.4L47.8,230.7L47.8,230.4L47.8,229.7L47.8,229.4L47.5,228.7L47.3,228.4L47.1,228.1L46.8,227.7L46.5,227.4L46.2,227.1L45.8,226.7L45.3,226.4L44.8,226.1L44.5,225.9L44.2,225.7L43.7,225.4L43.2,225.1L42.8,224.8L42.5,224.6L42.2,224.4L41.8,224.1L41.4,223.7L41.3,223.1L41.5,222.7L41.8,222.2L42.1,221.7L42.2,221.4L42.4,220.7L42.4,220.1L42.2,219.4L42.1,219.1L41.8,218.5L41.5,218.1L41.2,217.7L41.0,217.4L41.0,216.7L41.3,216.4L41.6,216.1L42.0,215.7L42.3,215.4L42.6,215.1L42.8,214.7L43.2,214.3L43.5,213.8L43.8,213.4L44.0,213.1L44.3,212.7L44.7,212.4L45.1,212.1L45.5,211.8L45.8,211.6L46.2,211.4L46.7,211.1L47.2,210.8L47.5,210.6L47.9,210.4L48.5,210.1L48.8,210.0L49.3,209.7L49.8,209.5L50.2,209.3L50.8,209.1L51.2,208.9L51.6,208.7L52.2,208.5L52.5,208.3L53.1,208.1L53.5,207.9L53.9,207.7L54.5,207.5L54.8,207.3L55.5,207.1L55.8,206.9L56.4,206.7L56.8,206.6L57.4,206.4L57.8,206.2L58.5,206.1L58.8,205.9L59.5,205.8L59.8,205.7L60.5,205.5L61.0,205.4L61.5,205.4L61.8,205.4L62.4,205.7L62.8,206.1L63.2,206.4L63.4,206.7L63.7,207.1L63.9,207.4L64.2,208.0L64.3,208.4L64.4,209.1L64.4,209.7L64.2,210.4L64.2,210.7L64.0,211.4L63.9,212.1L63.8,212.4L63.8,213.1L63.8,213.7L63.8,214.4L63.9,214.7L64.0,215.4L64.0,216.1L64.1,216.7L64.1,217.4L64.1,218.1L64.1,218.7L64.1,219.4L64.2,220.0L64.2,220.4L64.3,221.1L64.3,221.7L64.3,222.4L64.3,223.1L64.2,223.6L64.0,224.1L63.8,224.5L63.5,225.1L63.3,225.4L63.1,225.7L62.8,226.1L62.4,226.4L62.0,226.7L61.5,227.1L61.2,227.2L60.7,227.4L60.2,227.6L59.8,227.7L59.2,228.0L58.8,228.1L58.3,228.4L57.8,228.7L57.5,228.9L57.2,229.1L56.7,229.4L56.3,229.7L55.8,230.0L55.5,230.3L55.2,230.5L54.7,230.7L54.2,231.0L53.8,231.2L53.3,231.4L52.8,231.6L52.5,231.8L52.0,232.1L51.6,232.4L51.2,232.6L50.8,232.8L50.2,233.0L49.8,233.1 M38.8,223.8L38.2,223.7L37.8,223.6L37.3,223.4L36.9,223.1L36.6,222.7L36.3,222.4L36.2,222.1L36.0,221.4L36.0,220.7L36.2,220.1L36.4,219.7L36.6,219.4L36.9,219.1L37.5,218.8L37.8,219.1L37.9,219.7L38.2,220.3L38.4,220.7L38.6,221.1L38.8,221.5L39.1,222.1L39.3,222.4L39.5,222.7L39.6,223.4L39.2,223.7L38.8,223.8 M29.8,245.5L29.2,245.5L28.8,245.3L28.5,244.8L28.5,244.4L28.6,244.1L28.9,243.7L29.5,243.5L30.0,243.7L30.3,244.1L30.4,244.7L30.2,245.2L29.8,245.5 M57.5,201.4L56.8,201.5L56.2,201.6L55.5,201.7L54.8,201.7L54.2,201.6L53.5,201.4L53.2,201.3L52.5,201.1L52.2,200.9L51.8,200.7L51.3,200.4L50.8,200.1L50.5,199.9L50.1,199.7L49.5,199.5L49.2,199.4L48.5,199.2L47.9,199.1L47.5,198.9L47.2,198.7L46.9,198.1L46.9,197.4L47.0,196.7L47.1,196.1L47.1,195.4L47.2,194.9L47.2,194.4L47.3,193.7L47.5,193.1L47.6,192.7L47.8,192.1L48.0,191.7L48.2,191.4L48.5,190.9L48.8,190.5L49.2,190.2L49.5,189.9L49.8,189.7L50.5,189.4L50.8,189.3L51.5,189.2L52.2,189.1L52.8,189.2L53.5,189.2L54.2,189.4L54.5,189.4L55.2,189.6L55.8,189.7L56.2,189.8L56.8,189.8L57.5,189.9L58.2,189.8L58.8,189.8L59.5,189.8L60.2,189.8L60.8,190.0L61.2,190.1L61.7,190.4L62.1,190.7L62.5,191.1L62.8,191.4L63.0,191.7L63.2,192.1L63.4,192.7L63.5,193.4L63.5,194.1L63.4,194.7L63.3,195.4L63.2,196.1L63.1,196.4L63.1,197.1L63.1,197.7L63.0,198.4L62.8,199.0L62.6,199.4L62.3,199.7L62.0,200.1L61.5,200.4L61.2,200.6L60.7,200.7L60.2,200.9L59.5,201.0L59.2,201.1L58.5,201.2L57.8,201.3L57.5,201.4 M54.5,228.4L53.8,228.6L53.2,228.7L52.5,228.7L51.8,228.5L51.5,228.3L51.0,228.1L50.5,227.7L50.2,227.5L49.8,227.3L49.5,227.0L49.1,226.7L48.7,226.4L48.2,226.1L47.8,225.8L47.5,225.5L47.2,225.3L46.8,225.0L46.4,224.7L46.0,224.4L45.6,224.1L45.2,223.7L44.9,223.4L44.7,223.1L44.4,222.7L44.2,222.2L44.0,221.7L43.8,221.3L43.7,220.7L43.6,220.1L43.5,219.4L43.5,219.1L43.4,218.4L43.5,217.7L43.6,217.4L43.8,217.0L44.2,216.4L44.4,216.1L44.6,215.7L44.8,215.3L45.2,214.8L45.5,214.4L45.7,214.1L46.0,213.7L46.3,213.4L46.7,213.1L47.1,212.7L47.5,212.4L47.8,212.2L48.2,212.0L48.6,211.7L49.2,211.4L49.5,211.3L49.9,211.1L50.5,210.8L50.8,210.7L51.4,210.4L51.8,210.2L52.2,210.0L52.8,209.7L53.2,209.6L53.5,209.4L54.2,209.1L54.5,208.9L54.9,208.7L55.5,208.5L55.8,208.3L56.5,208.1L56.8,208.0L57.5,207.8L57.9,207.7L58.5,207.6L59.2,207.6L59.8,207.6L60.4,207.7L60.8,207.9L61.2,208.1L61.6,208.4L61.9,208.7L62.2,209.4L62.3,209.7L62.3,210.4L62.3,211.1L62.3,211.7L62.3,212.4L62.4,213.1L62.5,213.7L62.5,214.1L62.7,214.7L62.8,215.4L62.8,215.9L62.9,216.4L62.9,217.1L62.9,217.7L62.9,218.4L62.8,219.1L62.8,219.4L62.8,220.1L62.7,220.7L62.7,221.4L62.6,222.1L62.5,222.7L62.4,223.1L62.2,223.5L61.8,224.0L61.5,224.3L61.2,224.6L60.8,224.9L60.5,225.1L59.8,225.4L59.5,225.6L59.2,225.7L58.5,226.1L58.2,226.3L57.8,226.4L57.3,226.7L56.8,227.1L56.5,227.3L56.2,227.5L55.8,227.7L55.2,228.1L54.8,228.3L54.5,228.4 M56.2,200.1L55.5,200.1L54.8,200.1L54.5,200.0L53.8,199.8L53.5,199.6L53.2,199.4L52.7,199.1L52.4,198.7L52.0,198.4L51.6,198.1L51.3,197.7L50.9,197.4L50.6,197.1L50.3,196.7L50.0,196.4L49.8,196.1L49.5,195.6L49.3,195.1L49.2,194.5L49.1,194.1L49.2,193.4L49.2,193.1L49.4,192.4L49.6,192.1L49.8,191.7L50.2,191.3L50.5,191.1L51.1,190.7L51.5,190.6L52.2,190.5L52.8,190.4L53.5,190.5L54.2,190.6L54.8,190.7L55.2,190.8L55.8,190.9L56.5,191.0L56.8,191.1L57.5,191.2L58.2,191.3L58.8,191.3L59.3,191.4L59.8,191.6L60.3,191.7L60.8,192.1L61.1,192.4L61.4,192.7L61.5,193.1L61.7,193.7L61.7,194.4L61.7,195.1L61.5,195.7L61.5,196.1L61.3,196.7L61.1,197.1L60.8,197.7L60.5,198.1L60.2,198.4L59.8,198.7L59.5,199.0L59.2,199.2L58.6,199.4L58.2,199.6L57.7,199.7L57.2,199.9L56.5,200.0L56.2,200.1 M57.5,224.8L56.9,224.7L57.2,224.1L57.3,223.7L57.5,223.1L57.6,222.7L57.7,222.1L57.8,221.4L57.9,221.1L57.9,220.4L58.0,219.7L58.0,219.1L58.0,218.4L58.0,217.7L57.9,217.1L57.9,216.4L57.8,216.1L57.7,215.4L57.6,214.7L57.5,214.4L57.3,213.7L57.2,213.3L57.0,212.7L56.8,212.4L56.5,211.7L56.3,211.4L56.1,211.1L55.8,210.5L55.8,210.3L56.2,210.1L56.8,209.7L57.2,209.6L57.7,209.4L58.2,209.3L58.8,209.4L59.2,209.5L59.7,209.7L60.0,210.1L60.2,210.4L60.5,211.0L60.6,211.4L60.8,212.1L60.9,212.4L61.1,213.1L61.2,213.5L61.3,214.1L61.5,214.7L61.5,215.1L61.6,215.7L61.7,216.4L61.7,217.1L61.6,217.7L61.5,218.4L61.5,218.7L61.3,219.4L61.2,220.0L61.0,220.4L60.8,221.1L60.7,221.4L60.5,221.9L60.2,222.4L60.0,222.7L59.7,223.1L59.4,223.4L59.0,223.7L58.6,224.1L58.2,224.4L57.8,224.6L57.5,224.8 M57.2,197.7L56.5,198.0L55.8,198.0L55.2,198.0L54.5,197.7L54.2,197.6L53.8,197.4L53.4,197.1L53.0,196.7L52.6,196.4L52.2,196.1L51.9,195.7L51.6,195.4L51.4,195.1L51.2,194.6L51.0,194.1L51.0,193.4L51.2,193.0L51.5,192.5L51.8,192.2L52.2,192.0L52.8,191.8L53.5,191.7L54.2,191.9L54.8,192.0L55.5,192.0L55.8,192.1L56.5,192.3L57.0,192.4L57.5,192.6L58.0,192.7L58.5,192.9L58.8,193.1L59.2,193.4L59.5,193.8L59.7,194.4L59.6,195.1L59.5,195.5L59.2,196.1L59.0,196.4L58.7,196.7L58.3,197.1L57.8,197.4L57.5,197.6L57.2,197.7 M59.8,217.9L59.8,217.4L59.7,216.7L59.7,216.1L59.6,215.4L59.5,215.0L59.4,214.4L59.3,213.7L59.5,213.4L59.8,213.7L60.0,214.1L60.2,214.5L60.3,215.1L60.4,215.7L60.4,216.4L60.3,217.1L60.1,217.4L59.8,217.9 M55.2,195.4L54.6,195.4L54.2,195.3L53.8,195.1L54.2,195.0L54.8,195.0L55.4,194.7L55.8,194.6L56.2,194.3L56.3,194.7L56.1,195.1L55.5,195.4L55.2,195.4" fill="none" stroke="#484848" stroke-width="0.7"/>
<ellipse cx="89.5" cy="176.6" rx="7.0" ry="7.4" fill="#b8b8b8"/>
<ellipse cx="89.5" cy="176.6" rx="7.8" ry="8.2" fill="none" stroke="#444" stroke-width="0.9"/>
<ellipse cx="89.5" cy="176.6" rx="6.8" ry="7.2" fill="none" stroke="#444" stroke-width="0.8"/>
<ellipse cx="89.5" cy="176.6" rx="5.8" ry="6.2" fill="none" stroke="#555" stroke-width="0.7"/>
<ellipse cx="89.5" cy="176.6" rx="4.9" ry="5.2" fill="none" stroke="#555" stroke-width="0.7"/>
<ellipse cx="89.5" cy="176.6" rx="3.9" ry="4.2" fill="none" stroke="#555" stroke-width="0.7"/>
<ellipse cx="89.5" cy="176.6" rx="2.9" ry="3.1" fill="none" stroke="#555" stroke-width="0.7"/>
<circle cx="90.0" cy="176.6" r="1.4" fill="#f0f0f0"/>
<rect x="29.5" y="148.4" width="95.7" height="95.7" fill="none" stroke="#222" stroke-width="1.1"/>
<rect x="74.6" y="160.0" width="33.3" height="49.4" fill="none" stroke="#222" stroke-width="1.1"/>
<text x="105.5" y="208.0" font-size="8.6" font-weight="bold" text-anchor="end">10.3</text>
<path d="M29.5,240.1 L33.5,244.1 L29.5,244.1Z" fill="#444"/>
<path d="M27.7,157.4h1.8M27.7,179.4h1.8M27.7,190.4h1.8M27.7,196.4h1.8M27.7,200.4h1.8M27.7,202.4h1.8M27.7,204.4h1.8M27.7,211.4h1.8M27.7,220.4h1.8M27.7,225.4h1.8M27.7,228.4h1.8M27.7,230.4h1.8M27.7,232.4h1.8M38.5,244.1v2M39.5,244.1v2M40.5,244.1v2M41.5,244.1v2M42.5,244.1v2M44.0,244.1v2M45.5,244.1v2M47.0,244.1v2M48.5,244.1v2M56.5,244.1v2M64.5,244.1v2M70.5,244.1v2M75.5,244.1v2M81.5,244.1v2M87.5,244.1v2M93.5,244.1v2M98.5,244.1v2M104.5,244.1v2M110.5,244.1v2M115.5,244.1v2M121.5,244.1v2" stroke="#222" stroke-width="0.8" fill="none"/>
<g fill="#b0b0b0" clip-path="url(#cp1)"><circle cx="190.8" cy="186.2" r="0.5"/><circle cx="136.1" cy="237.6" r="0.5"/><circle cx="173.5" cy="208.1" r="0.5"/><circle cx="149.7" cy="181.2" r="0.5"/><circle cx="176.9" cy="223.4" r="0.5"/><circle cx="154.5" cy="241.5" r="0.5"/><circle cx="200.7" cy="166.7" r="0.5"/><circle cx="162.1" cy="179.1" r="0.5"/><circle cx="135.5" cy="229.2" r="0.5"/><circle cx="135.9" cy="192.7" r="0.5"/><circle cx="194.7" cy="219.9" r="0.5"/><circle cx="144.3" cy="177.2" r="0.5"/><circle cx="134.2" cy="222.5" r="0.5"/><circle cx="189.7" cy="195.9" r="0.5"/><circle cx="199.1" cy="164.2" r="0.5"/><circle cx="221.9" cy="240.8" r="0.5"/><circle cx="209.5" cy="183.7" r="0.5"/><circle cx="156.4" cy="182.0" r="0.5"/><circle cx="179.0" cy="175.1" r="0.5"/><circle cx="133.8" cy="207.3" r="0.5"/><circle cx="160.8" cy="182.1" r="0.5"/><circle cx="225.5" cy="185.3" r="0.5"/><circle cx="184.6" cy="163.4" r="0.5"/><circle cx="164.8" cy="168.7" r="0.5"/><circle cx="170.3" cy="189.7" r="0.5"/><circle cx="171.0" cy="227.2" r="0.5"/><circle cx="165.8" cy="183.4" r="0.5"/><circle cx="181.5" cy="195.9" r="0.5"/><circle cx="197.2" cy="194.6" r="0.5"/><circle cx="191.5" cy="191.3" r="0.5"/><circle cx="182.2" cy="190.2" r="0.5"/><circle cx="153.2" cy="241.2" r="0.5"/><circle cx="210.8" cy="189.0" r="0.5"/><circle cx="143.4" cy="163.0" r="0.5"/><circle cx="135.0" cy="219.8" r="0.5"/><circle cx="180.1" cy="186.0" r="0.5"/><circle cx="186.7" cy="186.5" r="0.5"/><circle cx="176.4" cy="181.4" r="0.5"/><circle cx="134.4" cy="206.1" r="0.5"/><circle cx="155.0" cy="181.5" r="0.5"/><circle cx="133.5" cy="201.1" r="0.5"/><circle cx="218.7" cy="164.2" r="0.5"/><circle cx="222.9" cy="203.8" r="0.5"/><circle cx="189.4" cy="197.2" r="0.5"/><circle cx="139.0" cy="185.3" r="0.5"/><circle cx="168.4" cy="169.3" r="0.5"/><circle cx="207.6" cy="173.3" r="0.5"/><circle cx="187.0" cy="170.0" r="0.5"/><circle cx="179.5" cy="190.2" r="0.5"/><circle cx="205.5" cy="172.6" r="0.5"/><circle cx="172.2" cy="222.6" r="0.5"/><circle cx="171.2" cy="191.6" r="0.5"/><circle cx="146.7" cy="178.0" r="0.5"/><circle cx="135.1" cy="235.8" r="0.5"/><circle cx="166.8" cy="236.4" r="0.5"/><circle cx="179.5" cy="185.3" r="0.5"/><circle cx="192.5" cy="214.4" r="0.5"/><circle cx="174.1" cy="202.6" r="0.5"/><circle cx="186.5" cy="185.8" r="0.5"/><circle cx="180.2" cy="178.0" r="0.5"/><circle cx="187.4" cy="194.2" r="0.5"/><circle cx="187.1" cy="190.5" r="0.5"/><circle cx="138.4" cy="194.3" r="0.5"/><circle cx="174.8" cy="188.2" r="0.5"/><circle cx="198.8" cy="186.2" r="0.5"/><circle cx="143.4" cy="174.6" r="0.5"/><circle cx="170.3" cy="230.5" r="0.5"/><circle cx="178.2" cy="196.3" r="0.5"/><circle cx="173.0" cy="190.3" r="0.5"/><circle cx="174.4" cy="172.3" r="0.5"/><circle cx="143.6" cy="242.4" r="0.5"/><circle cx="179.4" cy="177.0" r="0.5"/><circle cx="172.7" cy="208.7" r="0.5"/><circle cx="149.1" cy="178.1" r="0.5"/><circle cx="170.1" cy="185.4" r="0.5"/><circle cx="137.6" cy="189.0" r="0.5"/><circle cx="146.5" cy="177.3" r="0.5"/><circle cx="197.4" cy="161.1" r="0.5"/><circle cx="174.6" cy="213.9" r="0.5"/><circle cx="168.6" cy="235.0" r="0.5"/><circle cx="174.0" cy="223.2" r="0.5"/><circle cx="172.0" cy="187.6" r="0.5"/><circle cx="137.8" cy="196.1" r="0.5"/><circle cx="136.0" cy="203.5" r="0.5"/><circle cx="207.0" cy="167.8" r="0.5"/><circle cx="171.1" cy="202.2" r="0.5"/><circle cx="211.1" cy="182.1" r="0.5"/><circle cx="193.7" cy="188.9" r="0.5"/><circle cx="168.3" cy="168.7" r="0.5"/><circle cx="187.5" cy="164.0" r="0.5"/><circle cx="173.4" cy="223.7" r="0.5"/><circle cx="172.6" cy="201.3" r="0.5"/><circle cx="149.7" cy="186.7" r="0.5"/><circle cx="209.6" cy="185.9" r="0.5"/><circle cx="151.6" cy="181.1" r="0.5"/><circle cx="179.3" cy="177.1" r="0.5"/><circle cx="186.5" cy="164.1" r="0.5"/><circle cx="140.1" cy="187.2" r="0.5"/><circle cx="212.0" cy="189.0" r="0.5"/><circle cx="136.7" cy="195.6" r="0.5"/><circle cx="206.9" cy="182.7" r="0.5"/><circle cx="136.3" cy="207.7" r="0.5"/><circle cx="160.9" cy="178.3" r="0.5"/><circle cx="212.2" cy="173.6" r="0.5"/><circle cx="138.4" cy="243.1" r="0.5"/><circle cx="141.9" cy="189.7" r="0.5"/><circle cx="134.6" cy="215.4" r="0.5"/><circle cx="141.5" cy="177.5" r="0.5"/><circle cx="186.9" cy="164.6" r="0.5"/><circle cx="139.1" cy="181.9" r="0.5"/><circle cx="160.6" cy="179.8" r="0.5"/><circle cx="147.2" cy="240.7" r="0.5"/><circle cx="180.7" cy="185.7" r="0.5"/><circle cx="209.3" cy="188.6" r="0.5"/><circle cx="138.0" cy="196.4" r="0.5"/><circle cx="181.1" cy="178.3" r="0.5"/><circle cx="191.6" cy="201.4" r="0.5"/><circle cx="183.7" cy="180.7" r="0.5"/><circle cx="170.7" cy="177.8" r="0.5"/><circle cx="173.0" cy="214.5" r="0.5"/><circle cx="205.8" cy="175.0" r="0.5"/><circle cx="150.3" cy="188.5" r="0.5"/><circle cx="211.5" cy="171.4" r="0.5"/><circle cx="203.1" cy="173.9" r="0.5"/><circle cx="164.8" cy="185.9" r="0.5"/><circle cx="172.8" cy="222.8" r="0.5"/><circle cx="134.5" cy="216.9" r="0.5"/><circle cx="138.6" cy="235.0" r="0.5"/><circle cx="202.1" cy="192.6" r="0.5"/><circle cx="184.6" cy="194.8" r="0.5"/><circle cx="173.7" cy="210.9" r="0.5"/><circle cx="142.5" cy="193.5" r="0.5"/><circle cx="199.0" cy="162.5" r="0.5"/><circle cx="135.4" cy="211.1" r="0.5"/><circle cx="184.7" cy="193.7" r="0.5"/><circle cx="204.9" cy="168.0" r="0.5"/><circle cx="201.3" cy="160.7" r="0.5"/><circle cx="141.3" cy="194.0" r="0.5"/><circle cx="173.6" cy="220.0" r="0.5"/><circle cx="188.3" cy="187.1" r="0.5"/><circle cx="177.8" cy="188.0" r="0.5"/><circle cx="204.8" cy="177.5" r="0.5"/><circle cx="177.7" cy="164.7" r="0.5"/><circle cx="179.8" cy="224.8" r="0.5"/><circle cx="172.9" cy="156.1" r="0.5"/><circle cx="170.4" cy="233.4" r="0.5"/><circle cx="198.5" cy="164.7" r="0.5"/><circle cx="149.5" cy="241.1" r="0.5"/><circle cx="177.6" cy="208.6" r="0.5"/><circle cx="175.1" cy="198.3" r="0.5"/><circle cx="169.6" cy="174.3" r="0.5"/><circle cx="141.0" cy="186.2" r="0.5"/><circle cx="169.1" cy="186.6" r="0.5"/><circle cx="148.9" cy="177.3" r="0.5"/><circle cx="162.6" cy="185.9" r="0.5"/><circle cx="149.6" cy="183.9" r="0.5"/><circle cx="143.8" cy="186.2" r="0.5"/><circle cx="140.4" cy="185.6" r="0.5"/><circle cx="150.1" cy="178.5" r="0.5"/><circle cx="173.7" cy="189.2" r="0.5"/><circle cx="150.9" cy="189.1" r="0.5"/><circle cx="169.7" cy="188.4" r="0.5"/><circle cx="139.2" cy="186.7" r="0.5"/><circle cx="144.9" cy="177.9" r="0.5"/><circle cx="170.9" cy="181.2" r="0.5"/><circle cx="159.6" cy="187.8" r="0.5"/><circle cx="163.2" cy="183.9" r="0.5"/><circle cx="153.7" cy="184.7" r="0.5"/><circle cx="162.3" cy="189.8" r="0.5"/><circle cx="142.7" cy="186.3" r="0.5"/><circle cx="174.0" cy="178.7" r="0.5"/><circle cx="175.5" cy="179.9" r="0.5"/><circle cx="174.8" cy="180.9" r="0.5"/><circle cx="153.2" cy="177.0" r="0.5"/><circle cx="161.9" cy="181.0" r="0.5"/><circle cx="154.9" cy="181.9" r="0.5"/><circle cx="162.2" cy="182.6" r="0.5"/><circle cx="155.8" cy="187.6" r="0.5"/><circle cx="161.6" cy="185.2" r="0.5"/><circle cx="176.8" cy="187.1" r="0.5"/><circle cx="159.0" cy="186.5" r="0.5"/><circle cx="139.5" cy="181.2" r="0.5"/><circle cx="155.4" cy="187.8" r="0.5"/><circle cx="150.1" cy="188.6" r="0.5"/><circle cx="176.5" cy="174.9" r="0.5"/><circle cx="155.5" cy="177.1" r="0.5"/><circle cx="175.6" cy="176.0" r="0.5"/><circle cx="177.3" cy="174.7" r="0.5"/><circle cx="139.0" cy="183.7" r="0.5"/><circle cx="153.5" cy="186.1" r="0.5"/><circle cx="140.0" cy="183.3" r="0.5"/><circle cx="169.9" cy="182.7" r="0.5"/><circle cx="171.1" cy="182.6" r="0.5"/><circle cx="151.2" cy="188.5" r="0.5"/><circle cx="150.5" cy="179.3" r="0.5"/><circle cx="172.6" cy="189.3" r="0.5"/><circle cx="163.9" cy="180.9" r="0.5"/><circle cx="172.0" cy="174.1" r="0.5"/><circle cx="147.8" cy="186.0" r="0.5"/><circle cx="155.9" cy="189.3" r="0.5"/><circle cx="138.0" cy="187.9" r="0.5"/><circle cx="150.3" cy="180.5" r="0.5"/><circle cx="172.4" cy="182.9" r="0.5"/><circle cx="157.4" cy="183.8" r="0.5"/><circle cx="144.9" cy="182.5" r="0.5"/><circle cx="168.9" cy="186.4" r="0.5"/><circle cx="175.9" cy="176.0" r="0.5"/><circle cx="142.9" cy="186.2" r="0.5"/><circle cx="138.3" cy="185.7" r="0.5"/><circle cx="144.8" cy="176.9" r="0.5"/></g>
<path clip-path="url(#cp1)" d="M147.5,239.8L146.8,239.9L146.2,239.9L145.5,239.8L145.2,239.7L144.6,239.4L144.2,239.1L143.8,238.8L143.5,238.5L143.2,238.1L142.9,237.8L142.6,237.4L142.3,237.1L142.0,236.8L141.6,236.4L141.2,236.1L140.8,235.8L140.5,235.5L140.2,235.3L139.8,235.0L139.5,234.8L139.1,234.4L138.8,234.1L138.5,233.8L138.2,233.4L137.8,232.8L137.6,232.4L137.5,232.1L137.3,231.4L137.2,231.0L137.0,230.4L136.9,229.8L136.8,229.4L136.6,228.8L136.5,228.3L136.3,227.8L136.2,227.3L136.0,226.8L135.8,226.4L135.7,225.8L135.5,225.1L135.4,224.8L135.4,224.1L135.4,223.4L135.5,222.8L135.5,222.4L135.6,221.8L135.7,221.1L135.8,220.7L136.0,220.1L136.2,219.6L136.3,219.1L136.5,218.6L136.7,218.1L136.8,217.6L137.0,217.1L137.2,216.4L137.2,216.1L137.3,215.4L137.3,214.8L137.2,214.1L137.2,213.4L137.2,213.0L137.2,212.4L137.2,212.1L137.2,211.4L137.4,210.8L137.5,210.1L137.6,209.8L137.7,209.1L137.8,208.7L138.0,208.1L138.1,207.4L138.1,206.8L138.1,206.1L138.1,205.4L138.0,204.8L137.9,204.1L137.8,203.7L137.7,203.1L137.7,202.4L137.7,201.8L137.8,201.1L137.8,200.7L138.0,200.1L138.2,199.8L138.5,199.2L138.8,198.8L139.0,198.4L139.3,198.1L139.5,197.8L139.8,197.4L140.2,197.1L140.5,196.7L140.8,196.4L141.2,196.1L141.6,195.8L142.0,195.4L142.5,195.1L142.8,194.9L143.2,194.6L143.5,194.4L143.9,194.1L144.3,193.8L144.7,193.4L145.0,193.1L145.3,192.8L145.6,192.4L145.8,192.0L146.2,191.4L146.4,191.1L146.6,190.8L146.9,190.4L147.4,190.1L147.8,190.0L148.5,189.9L149.2,189.9L149.8,189.9L150.5,189.9L151.2,189.8L151.6,189.8L152.2,189.7L152.8,189.5L153.2,189.4L153.8,189.1L154.2,189.0L154.8,188.8L155.2,188.6L155.8,188.5L156.2,188.4L156.8,188.4L157.5,188.4L157.9,188.4L158.5,188.5L159.2,188.6L159.8,188.7L160.5,188.7L161.2,188.5L161.5,188.4L162.2,188.2L162.8,188.1L163.5,188.4L163.8,188.5L164.2,188.8L164.6,189.1L165.1,189.4L165.5,189.8L165.8,190.1L166.2,190.4L166.5,190.7L166.8,191.0L167.2,191.2L167.5,191.5L167.9,191.8L168.4,192.1L168.8,192.3L169.2,192.5L169.8,192.7L170.2,192.8L170.8,193.0L171.5,193.1L172.2,193.1L172.5,193.1L172.8,193.1L173.5,193.0L174.2,192.9L174.5,192.8L175.2,192.6L175.5,192.4L176.2,192.2L176.5,192.1L177.2,191.8L177.5,191.7L178.2,191.5L178.5,191.3L179.2,191.1L179.5,191.0L180.2,190.8L180.5,190.7L181.2,190.5L181.5,190.4L182.0,190.1L182.4,189.8L182.7,189.4L182.9,189.1L183.2,188.5L183.3,188.1L183.5,187.8L183.8,187.2L184.2,186.8L184.5,186.5L184.8,186.3L185.5,186.1L186.2,186.2L186.7,186.4L187.2,186.8L187.4,187.1L187.7,187.4L187.8,187.8L188.0,188.4L188.0,189.1L187.9,189.8L187.8,190.1L187.5,190.7L187.2,191.1L186.9,191.4L186.5,191.8L186.2,192.0L185.8,192.2L185.2,192.4L184.8,192.5L184.2,192.6L183.6,192.8L183.2,192.9L182.5,193.1L182.2,193.2L181.6,193.4L181.2,193.6L180.8,193.8L180.2,194.1L179.8,194.2L179.4,194.4L178.8,194.7L178.5,194.8L177.9,195.1L177.5,195.2L177.0,195.4L176.5,195.6L175.8,195.8L175.5,195.9L174.8,196.0L174.5,196.1L173.8,196.3L173.2,196.4L172.8,196.6L172.2,196.8L171.8,196.9L171.5,197.1L171.0,197.4L170.6,197.8L170.4,198.1L170.2,198.6L170.0,199.1L169.9,199.8L169.9,200.4L169.9,201.1L170.0,201.8L170.1,202.4L170.2,202.9L170.2,203.4L170.4,204.1L170.5,204.8L170.6,205.1L170.7,205.8L170.8,206.4L170.9,206.8L171.0,207.4L171.0,208.1L171.0,208.8L171.0,209.4L170.9,210.1L170.8,210.8L170.8,211.1L170.8,211.5L170.9,212.1L171.1,212.8L171.2,213.1L171.4,213.8L171.5,214.1L171.7,214.8L171.8,215.4L171.8,216.1L171.6,216.8L171.5,217.1L171.2,217.8L171.0,218.1L170.8,218.5L170.5,219.1L170.3,219.4L170.1,219.8L169.9,220.4L169.8,220.8L169.7,221.4L169.7,222.1L169.7,222.8L169.7,223.4L169.7,224.1L169.6,224.8L169.5,225.2L169.3,225.8L169.2,226.3L169.0,226.8L168.8,227.2L168.6,227.8L168.5,228.1L168.2,228.8L168.1,229.1L167.8,229.7L167.6,230.1L167.5,230.4L167.2,231.1L167.1,231.4L166.9,232.1L166.8,232.4L166.6,233.1L166.5,233.4L166.3,234.1L166.2,234.6L166.0,235.1L165.8,235.4L165.5,235.9L165.2,236.2L164.8,236.5L164.4,236.8L163.8,237.0L163.3,237.1L162.8,237.2L162.2,237.2L161.5,237.2L160.8,237.2L160.2,237.2L159.5,237.2L158.8,237.2L158.2,237.3L157.5,237.4L157.2,237.4L156.5,237.6L156.1,237.8L155.5,238.0L155.2,238.2L154.7,238.4L154.2,238.7L153.8,238.9L153.4,239.1L152.8,239.3L152.2,239.4L151.8,239.5L151.2,239.5L150.5,239.5L149.8,239.5L149.2,239.6L148.5,239.7L147.8,239.8L147.5,239.8 M185.8,190.4L185.2,190.6L184.6,190.4L184.4,190.1L184.3,189.4L184.4,188.8L184.5,188.3L184.8,187.8L185.2,187.4L185.5,187.3L186.0,187.4L186.4,187.8L186.6,188.1L186.7,188.8L186.6,189.4L186.5,189.8L186.2,190.2L185.8,190.4 M147.8,237.1L147.2,237.1L146.8,237.1L146.2,236.9L145.8,236.8L145.3,236.4L144.9,236.1L144.5,235.8L144.2,235.4L143.8,235.1L143.5,234.8L143.2,234.5L142.8,234.2L142.5,234.0L142.2,233.7L141.8,233.4L141.3,233.1L140.9,232.8L140.5,232.4L140.2,232.1L139.9,231.8L139.7,231.4L139.5,231.0L139.3,230.4L139.1,230.1L138.9,229.4L138.8,229.1L138.6,228.4L138.5,228.1L138.3,227.4L138.2,227.0L138.0,226.4L137.8,226.0L137.7,225.4L137.6,224.8L137.5,224.4L137.4,223.8L137.4,223.1L137.4,222.4L137.5,221.8L137.5,221.4L137.6,220.8L137.8,220.1L137.9,219.8L138.2,219.1L138.3,218.8L138.5,218.2L138.7,217.8L138.8,217.2L138.9,216.8L139.0,216.1L139.0,215.4L138.9,214.8L138.9,214.1L138.8,213.4L138.8,213.1L138.8,212.6L138.9,212.1L138.9,211.4L139.1,210.8L139.2,210.4L139.3,209.8L139.5,209.2L139.6,208.8L139.8,208.1L139.9,207.8L140.1,207.1L140.2,206.8L140.4,206.1L140.5,205.5L140.6,205.1L140.6,204.4L140.5,203.8L140.4,203.4L140.2,202.8L140.1,202.4L140.0,201.8L140.0,201.1L140.1,200.4L140.3,200.1L140.5,199.7L140.8,199.2L141.2,198.9L141.5,198.6L141.8,198.3L142.2,198.1L142.7,197.8L143.2,197.5L143.5,197.3L144.1,197.1L144.5,197.0L145.2,196.8L145.5,196.7L146.2,196.7L146.8,196.7L147.2,196.8L147.8,196.9L148.5,197.0L148.8,197.1L149.5,197.2L150.2,197.4L150.5,197.6L150.8,197.9L151.2,198.4L151.4,198.8L151.6,199.1L151.8,199.4L152.2,200.0L152.4,200.4L152.5,200.8L152.8,201.4L152.9,201.8L153.1,202.4L153.2,202.9L153.2,203.4L153.2,204.1L153.2,204.8L153.3,205.4L153.4,206.1L153.5,206.6L153.7,207.1L153.9,207.4L154.3,207.8L154.8,208.1L155.2,208.2L155.8,208.2L156.2,208.1L156.5,207.8L156.8,207.3L157.0,206.8L156.9,206.1L156.8,205.6L156.7,205.1L156.5,204.7L156.2,204.1L156.1,203.8L155.8,203.2L155.7,202.8L155.5,202.1L155.4,201.8L155.4,201.1L155.4,200.4L155.5,199.8L155.5,199.4L155.5,198.8L155.5,198.1L155.5,197.6L155.5,197.1L155.4,196.4L155.2,195.8L155.2,195.3L155.1,194.8L155.0,194.1L154.9,193.4L155.0,192.8L155.2,192.3L155.4,191.8L155.7,191.4L156.1,191.1L156.5,190.9L156.8,190.8L157.5,190.7L158.2,190.8L158.5,190.8L159.2,191.0L159.6,191.1L160.2,191.2L160.8,191.4L161.2,191.5L161.8,191.6L162.5,191.8L162.8,191.9L163.2,192.1L163.7,192.4L164.0,192.8L164.3,193.1L164.5,193.5L164.8,194.1L164.9,194.4L165.2,195.0L165.4,195.4L165.5,195.8L165.8,196.4L166.0,196.8L166.2,197.1L166.5,197.7L166.7,198.1L166.8,198.5L167.0,199.1L167.2,199.8L167.2,200.1L167.3,200.8L167.4,201.4L167.5,202.1L167.5,202.4L167.7,203.1L167.8,203.7L167.9,204.1L168.2,204.8L168.3,205.1L168.5,205.7L168.6,206.1L168.8,206.8L168.9,207.1L169.0,207.8L169.1,208.4L169.1,209.1L169.0,209.8L169.0,210.4L168.9,211.1L168.9,211.8L168.9,212.4L169.0,213.1L169.1,213.8L169.2,214.1L169.3,214.8L169.4,215.4L169.4,216.1L169.2,216.8L169.0,217.1L168.8,217.5L168.5,218.0L168.2,218.4L168.0,218.8L167.8,219.1L167.5,219.6L167.3,220.1L167.1,220.4L166.9,221.1L166.8,221.4L166.6,222.1L166.5,222.6L166.4,223.1L166.3,223.8L166.2,224.4L166.2,225.1L166.2,225.8L166.2,226.1L166.1,226.8L166.1,227.4L166.0,228.1L165.9,228.8L165.8,229.1L165.7,229.8L165.5,230.4L165.5,230.8L165.3,231.4L165.2,231.9L165.0,232.4L164.8,233.0L164.7,233.4L164.5,233.8L164.2,234.4L163.8,234.8L163.5,235.0L163.2,235.2L162.5,235.4L162.2,235.5L161.5,235.5L160.8,235.5L160.2,235.5L159.5,235.5L158.8,235.5L158.2,235.5L157.5,235.5L156.8,235.6L156.2,235.7L155.5,235.8L155.2,235.8L154.5,236.0L154.1,236.1L153.5,236.3L152.8,236.4L152.5,236.5L151.8,236.6L151.2,236.7L150.5,236.7L150.2,236.8L149.5,236.9L148.8,237.0L148.2,237.1L147.8,237.1 M176.5,194.4L175.8,194.4L175.5,194.2L175.5,194.0L175.8,193.6L176.2,193.4L176.6,193.1L177.2,192.8L177.5,192.6L178.0,192.4L178.5,192.3L179.2,192.1L179.5,192.0L180.2,192.0L180.8,192.1L180.9,192.4L180.6,192.8L180.2,193.1L179.8,193.3L179.5,193.5L178.9,193.8L178.5,193.9L178.0,194.1L177.5,194.3L176.8,194.4L176.5,194.4 M160.5,203.8L159.8,203.9L159.2,203.8L158.8,203.7L158.3,203.4L157.9,203.1L157.6,202.8L157.4,202.4L157.2,202.1L156.9,201.4L156.8,201.0L156.7,200.4L156.7,199.8L156.7,199.1L156.7,198.4L156.7,197.8L156.7,197.1L156.7,196.4L156.8,195.8L156.8,195.1L156.9,194.8L157.1,194.1L157.3,193.8L157.6,193.4L158.2,193.1L158.5,193.0L159.2,193.0L159.5,193.1L160.2,193.3L160.6,193.4L161.2,193.7L161.5,193.9L161.8,194.1L162.2,194.4L162.5,194.8L162.8,195.2L163.2,195.7L163.4,196.1L163.5,196.4L163.8,197.1L163.9,197.4L164.2,198.1L164.3,198.4L164.4,199.1L164.4,199.8L164.4,200.4L164.2,201.1L164.0,201.4L163.8,201.8L163.5,202.1L163.2,202.4L162.7,202.8L162.2,203.1L161.8,203.3L161.5,203.4L160.8,203.7L160.5,203.8 M150.8,234.8L150.2,234.8L149.8,234.8L149.2,234.7L148.5,234.7L147.8,234.5L147.5,234.4L146.8,234.1L146.5,233.9L146.2,233.7L145.8,233.3L145.5,233.0L145.2,232.7L144.8,232.3L144.5,232.0L144.2,231.6L143.8,231.3L143.5,230.9L143.2,230.6L142.8,230.2L142.5,229.8L142.3,229.4L142.1,229.1L141.8,228.7L141.5,228.1L141.4,227.8L141.2,227.3L141.0,226.8L140.8,226.4L140.6,225.8L140.5,225.4L140.3,224.8L140.2,224.1L140.1,223.8L140.1,223.1L140.0,222.4L140.0,221.8L140.0,221.1L140.1,220.4L140.2,220.1L140.4,219.4L140.5,219.0L140.7,218.4L140.8,217.8L140.8,217.4L140.9,216.8L140.9,216.1L140.8,215.7L140.8,215.1L140.7,214.4L140.7,213.8L140.7,213.1L140.7,212.4L140.8,211.8L140.9,211.4L141.1,210.8L141.3,210.4L141.5,209.8L141.6,209.4L141.8,209.0L142.1,208.4L142.2,208.1L142.5,207.6L142.8,207.1L142.9,206.8L143.2,206.4L143.5,205.8L143.8,205.4L144.0,205.1L144.2,204.7L144.5,204.1L144.7,203.8L144.8,203.3L145.0,202.8L145.2,202.3L145.4,201.8L145.8,201.4L146.2,201.4L146.5,201.5L147.2,201.7L147.5,201.8L148.2,201.9L148.8,202.0L149.3,202.1L149.8,202.2L150.2,202.4L150.6,202.8L150.9,203.1L151.1,203.8L151.2,204.1L151.3,204.8L151.4,205.4L151.5,206.1L151.5,206.4L151.6,207.1L151.7,207.8L151.8,208.3L152.0,208.8L152.2,209.2L152.5,209.7L152.8,210.1L153.1,210.4L153.5,210.8L153.8,211.0L154.2,211.2L154.8,211.4L155.2,211.5L155.8,211.7L156.3,211.8L156.8,211.8L157.5,211.9L158.2,212.0L158.8,212.1L159.4,212.1L159.8,212.1L160.2,212.1L160.8,211.9L161.2,211.6L161.5,211.3L161.8,210.8L162.1,210.4L162.2,210.1L162.5,209.7L162.8,209.2L163.2,208.9L163.5,208.6L163.9,208.4L164.5,208.2L165.2,208.1L165.8,208.2L166.3,208.4L166.6,208.8L166.8,209.1L167.1,209.8L167.2,210.1L167.3,210.8L167.3,211.4L167.3,212.1L167.3,212.8L167.2,213.4L167.2,213.9L167.1,214.4L166.8,215.1L166.7,215.4L166.5,215.8L166.2,216.3L165.8,216.7L165.6,217.1L165.4,217.4L165.2,217.9L165.0,218.4L164.8,218.9L164.7,219.4L164.5,220.1L164.4,220.4L164.3,221.1L164.2,221.7L164.1,222.1L164.0,222.8L163.9,223.4L163.9,224.1L163.9,224.8L163.9,225.4L164.0,226.1L164.0,226.8L164.0,227.4L164.0,228.1L164.0,228.8L163.9,229.4L163.8,229.8L163.6,230.4L163.5,230.8L163.3,231.4L163.1,231.8L162.8,232.2L162.5,232.6L162.2,232.9L161.7,233.1L161.2,233.3L160.5,233.4L160.2,233.4L159.5,233.5L158.8,233.5L158.2,233.6L157.5,233.6L156.8,233.7L156.5,233.8L155.8,233.9L155.2,234.0L154.8,234.1L154.2,234.3L153.6,234.4L153.2,234.5L152.5,234.6L151.8,234.7L151.2,234.8L150.8,234.8 M160.2,201.1L159.5,201.2L159.0,201.1L158.5,200.8L158.3,200.4L158.1,200.1L158.0,199.4L157.9,198.8L157.9,198.1L158.0,197.4L158.1,196.8L158.3,196.4L158.5,196.1L158.8,195.7L159.5,195.5L160.2,195.6L160.5,195.8L160.9,196.1L161.2,196.4L161.5,196.8L161.8,197.4L161.9,197.8L162.0,198.4L162.0,199.1L161.8,199.6L161.6,200.1L161.3,200.4L160.9,200.8L160.5,201.0L160.2,201.1 M152.5,233.1L151.8,233.2L151.2,233.2L150.5,233.1L150.2,233.1L149.5,232.8L149.2,232.7L148.7,232.4L148.3,232.1L148.0,231.8L147.7,231.4L147.5,231.1L147.2,230.5L147.0,230.1L146.8,229.8L146.5,229.2L146.2,228.8L145.9,228.4L145.7,228.1L145.4,227.8L145.1,227.4L144.8,227.1L144.5,226.6L144.2,226.1L144.0,225.8L143.8,225.4L143.5,224.8L143.4,224.4L143.3,223.8L143.2,223.3L143.1,222.8L143.0,222.1L142.9,221.4L142.9,220.8L142.9,220.1L142.9,219.4L142.9,218.8L142.9,218.1L142.9,217.4L142.8,217.0L142.8,216.4L142.7,215.8L142.7,215.1L142.6,214.4L142.6,213.8L142.6,213.1L142.7,212.4L142.8,211.9L143.0,211.4L143.2,210.8L143.3,210.4L143.5,209.8L143.7,209.4L143.8,209.1L144.2,208.4L144.4,208.1L144.6,207.8L144.8,207.4L145.2,207.0L145.5,206.7L145.8,206.4L146.4,206.1L146.8,206.0L147.5,206.1L147.8,206.2L148.3,206.4L148.6,206.8L148.9,207.1L149.2,207.6L149.4,208.1L149.5,208.5L149.7,209.1L149.9,209.4L150.2,210.1L150.3,210.4L150.5,210.8L150.8,211.4L151.1,211.8L151.3,212.1L151.6,212.4L151.9,212.8L152.3,213.1L152.8,213.4L153.2,213.5L153.8,213.7L154.2,213.8L154.8,213.9L155.5,213.9L156.2,213.9L156.8,214.0L157.5,214.1L157.8,214.2L158.5,214.3L158.8,214.5L159.4,214.8L159.8,215.0L160.2,215.3L160.5,215.6L160.8,216.0L161.1,216.4L161.3,216.8L161.5,217.2L161.7,217.8L161.8,218.3L161.9,218.8L162.1,219.4L162.1,220.1L162.2,220.8L162.2,221.1L162.2,221.8L162.2,222.4L162.2,223.1L162.3,223.8L162.3,224.4L162.4,225.1L162.4,225.8L162.4,226.4L162.4,227.1L162.3,227.8L162.2,228.1L161.9,228.8L161.7,229.1L161.5,229.4L161.2,229.8L160.7,230.1L160.2,230.3L159.8,230.5L159.2,230.7L158.8,230.8L158.2,231.0L157.7,231.1L157.2,231.3L156.8,231.5L156.2,231.8L155.8,231.9L155.5,232.1L154.8,232.4L154.5,232.5L153.9,232.8L153.5,232.9L152.8,233.1L152.5,233.1 M165.5,212.7L165.1,212.4L165.2,211.8L165.5,211.6L165.7,212.1L165.5,212.7 M152.8,231.6L152.2,231.7L151.5,231.6L150.9,231.4L150.5,231.2L150.2,230.8L149.9,230.4L149.7,230.1L149.5,229.7L149.2,229.1L149.1,228.8L148.8,228.4L148.5,227.8L148.2,227.4L148.0,227.1L147.7,226.8L147.4,226.4L147.2,226.0L146.8,225.5L146.6,225.1L146.5,224.8L146.3,224.1L146.2,223.4L146.3,222.8L146.3,222.1L146.5,221.4L146.5,221.1L146.6,220.4L146.5,219.8L146.5,219.4L146.2,218.8L146.0,218.4L145.8,218.1L145.5,217.5L145.3,217.1L145.1,216.8L144.9,216.1L144.8,215.8L144.7,215.1L144.6,214.4L144.5,213.8L144.5,213.1L144.6,212.4L144.7,211.8L144.8,211.1L144.9,210.8L145.2,210.2L145.3,209.8L145.5,209.4L145.8,209.0L146.2,208.7L146.8,208.6L147.2,208.8L147.5,209.2L147.8,209.8L148.0,210.1L148.2,210.4L148.5,211.1L148.7,211.4L148.8,211.8L149.1,212.4L149.2,212.8L149.5,213.4L149.7,213.8L149.9,214.1L150.2,214.5L150.5,214.9L150.8,215.1L151.4,215.4L151.8,215.6L152.5,215.7L152.9,215.8L153.5,215.8L154.2,215.9L154.8,215.9L155.5,215.9L156.2,216.0L156.8,216.1L157.2,216.2L157.7,216.4L158.2,216.7L158.5,217.0L158.8,217.4L159.1,217.8L159.3,218.1L159.5,218.6L159.7,219.1L159.8,219.6L160.0,220.1L160.1,220.8L160.2,221.1L160.3,221.8L160.4,222.4L160.5,222.8L160.6,223.4L160.7,224.1L160.8,224.8L160.8,225.4L160.7,226.1L160.6,226.8L160.4,227.1L160.2,227.4L159.8,227.8L159.3,228.1L158.8,228.3L158.5,228.4L157.8,228.6L157.3,228.8L156.8,228.9L156.2,229.1L155.8,229.2L155.4,229.4L154.8,229.8L154.5,230.1L154.2,230.4L153.9,230.8L153.6,231.1L153.2,231.4L152.8,231.6 M153.5,227.5L152.8,227.6L152.2,227.6L151.5,227.5L151.2,227.3L150.8,227.1L150.4,226.8L150.0,226.4L149.7,226.1L149.4,225.8L149.1,225.4L148.8,225.0L148.5,224.4L148.4,224.1L148.3,223.4L148.3,222.8L148.4,222.1L148.5,221.6L148.6,221.1L148.8,220.4L149.0,220.1L149.2,219.6L149.4,219.1L149.7,218.8L150.0,218.4L150.5,218.1L150.8,218.0L151.5,217.8L151.8,217.7L152.5,217.7L153.2,217.7L153.8,217.8L154.2,217.8L154.8,218.0L155.3,218.1L155.8,218.4L156.2,218.6L156.5,218.8L156.8,219.2L157.2,219.6L157.4,220.1L157.6,220.4L157.8,221.0L158.0,221.4L158.2,222.0L158.3,222.4L158.5,223.1L158.5,223.4L158.6,224.1L158.6,224.8L158.5,225.4L158.3,225.8L157.9,226.1L157.5,226.4L157.2,226.5L156.5,226.8L156.2,226.8L155.5,227.0L155.1,227.1L154.5,227.2L153.8,227.4L153.5,227.5" fill="none" stroke="#484848" stroke-width="0.7"/>
<path d="M183.2,175.8 C182.7,168.8 189.7,166.3 195.7,167.3 C201.7,168.8 204.2,174.8 203.2,180.8 C202.2,185.8 196.7,188.8 190.7,188.8 C186.7,188.8 184.7,191.8 181.7,194.8 C179.7,196.8 177.2,194.8 178.7,190.8 C180.2,186.8 183.7,182.8 183.2,175.8Z" fill="none" stroke="#555" stroke-width="0.7"/>
<ellipse cx="192.7" cy="177.8" rx="9.8" ry="9.6" fill="none" stroke="#777" stroke-width="0.6"/>
<ellipse cx="192.7" cy="177.8" rx="8.6" ry="8.4" fill="none" stroke="#333" stroke-width="0.8"/>
<ellipse cx="192.7" cy="177.8" rx="7.8" ry="7.6" fill="none" stroke="#222" stroke-width="0.9"/>
<ellipse cx="192.7" cy="177.8" rx="7.1" ry="6.9" fill="none" stroke="#222" stroke-width="0.9"/>
<ellipse cx="192.7" cy="177.8" rx="6.4" ry="6.2" fill="none" stroke="#222" stroke-width="0.9"/>
<ellipse cx="192.7" cy="177.8" rx="5.6" ry="5.4" fill="none" stroke="#333" stroke-width="0.8"/>
<ellipse cx="192.7" cy="177.8" rx="3.9" ry="3.8" fill="none" stroke="#555" stroke-width="0.6"/>
<ellipse cx="192.7" cy="177.8" rx="2.3" ry="2.2" fill="none" stroke="#555" stroke-width="0.6"/>
<rect x="132.5" y="148.1" width="95.5" height="96.1" fill="none" stroke="#222" stroke-width="1.1"/>
<rect x="177.6" y="159.7" width="33.3" height="49.4" fill="none" stroke="#222" stroke-width="1.1"/>
<text x="208.5" y="207.7" font-size="8.6" font-weight="bold" text-anchor="end">36.0</text>
<path d="M132.5,240.2 L136.5,244.2 L132.5,244.2Z" fill="#444"/>
<path d="M130.7,157.1h1.8M130.7,179.1h1.8M130.7,190.1h1.8M130.7,196.1h1.8M130.7,200.1h1.8M130.7,202.1h1.8M130.7,204.1h1.8M130.7,211.1h1.8M130.7,220.1h1.8M130.7,225.1h1.8M130.7,228.1h1.8M130.7,230.1h1.8M130.7,232.1h1.8M141.5,244.2v2M142.5,244.2v2M143.5,244.2v2M144.5,244.2v2M145.5,244.2v2M147.0,244.2v2M148.5,244.2v2M150.0,244.2v2M151.5,244.2v2M159.5,244.2v2M167.5,244.2v2M173.5,244.2v2M178.5,244.2v2M184.5,244.2v2M190.5,244.2v2M196.5,244.2v2M201.5,244.2v2M207.5,244.2v2M213.5,244.2v2M218.5,244.2v2M224.5,244.2v2" stroke="#222" stroke-width="0.8" fill="none"/>
<g fill="#b0b0b0" clip-path="url(#cp2)"><circle cx="288.4" cy="225.1" r="0.5"/><circle cx="278.4" cy="218.9" r="0.5"/><circle cx="288.6" cy="183.3" r="0.5"/><circle cx="276.0" cy="231.9" r="0.5"/><circle cx="248.1" cy="171.5" r="0.5"/><circle cx="252.8" cy="174.9" r="0.5"/><circle cx="237.0" cy="172.6" r="0.5"/><circle cx="273.2" cy="159.2" r="0.5"/><circle cx="279.1" cy="238.4" r="0.5"/><circle cx="312.3" cy="190.2" r="0.5"/><circle cx="278.0" cy="231.3" r="0.5"/><circle cx="252.6" cy="167.6" r="0.5"/><circle cx="319.7" cy="158.4" r="0.5"/><circle cx="258.1" cy="167.8" r="0.5"/><circle cx="305.9" cy="177.2" r="0.5"/><circle cx="284.2" cy="188.9" r="0.5"/><circle cx="302.7" cy="240.2" r="0.5"/><circle cx="253.7" cy="167.8" r="0.5"/><circle cx="327.4" cy="237.2" r="0.5"/><circle cx="262.0" cy="169.1" r="0.5"/><circle cx="239.3" cy="162.4" r="0.5"/><circle cx="285.3" cy="195.6" r="0.5"/><circle cx="241.7" cy="168.2" r="0.5"/><circle cx="283.0" cy="237.4" r="0.5"/><circle cx="267.3" cy="173.8" r="0.5"/><circle cx="287.0" cy="222.9" r="0.5"/><circle cx="246.6" cy="160.1" r="0.5"/><circle cx="281.7" cy="203.4" r="0.5"/><circle cx="254.0" cy="167.3" r="0.5"/><circle cx="239.0" cy="161.8" r="0.5"/><circle cx="295.9" cy="164.1" r="0.5"/><circle cx="300.6" cy="188.0" r="0.5"/><circle cx="323.9" cy="183.0" r="0.5"/><circle cx="248.0" cy="160.9" r="0.5"/><circle cx="297.3" cy="168.1" r="0.5"/><circle cx="250.1" cy="166.3" r="0.5"/><circle cx="287.6" cy="193.8" r="0.5"/><circle cx="269.6" cy="241.8" r="0.5"/><circle cx="315.7" cy="174.6" r="0.5"/><circle cx="264.2" cy="172.8" r="0.5"/><circle cx="310.7" cy="175.1" r="0.5"/><circle cx="258.2" cy="166.5" r="0.5"/><circle cx="276.8" cy="236.2" r="0.5"/><circle cx="283.6" cy="224.2" r="0.5"/><circle cx="263.6" cy="163.7" r="0.5"/><circle cx="285.0" cy="169.2" r="0.5"/><circle cx="243.0" cy="162.7" r="0.5"/><circle cx="274.1" cy="241.5" r="0.5"/><circle cx="259.9" cy="173.9" r="0.5"/><circle cx="285.4" cy="212.4" r="0.5"/><circle cx="280.0" cy="185.9" r="0.5"/><circle cx="249.0" cy="165.9" r="0.5"/><circle cx="282.8" cy="234.5" r="0.5"/><circle cx="285.6" cy="209.2" r="0.5"/><circle cx="281.0" cy="193.2" r="0.5"/><circle cx="294.4" cy="187.2" r="0.5"/><circle cx="284.3" cy="194.8" r="0.5"/><circle cx="242.1" cy="167.4" r="0.5"/><circle cx="284.8" cy="181.4" r="0.5"/><circle cx="282.9" cy="184.2" r="0.5"/><circle cx="279.8" cy="184.1" r="0.5"/><circle cx="243.1" cy="170.4" r="0.5"/><circle cx="286.1" cy="200.1" r="0.5"/><circle cx="283.3" cy="177.2" r="0.5"/><circle cx="277.6" cy="234.0" r="0.5"/><circle cx="291.7" cy="165.7" r="0.5"/><circle cx="278.1" cy="229.1" r="0.5"/><circle cx="248.6" cy="170.6" r="0.5"/><circle cx="242.0" cy="162.0" r="0.5"/><circle cx="275.6" cy="177.2" r="0.5"/><circle cx="311.2" cy="185.2" r="0.5"/><circle cx="288.2" cy="217.6" r="0.5"/><circle cx="294.1" cy="188.4" r="0.5"/><circle cx="236.1" cy="168.1" r="0.5"/><circle cx="276.4" cy="241.7" r="0.5"/><circle cx="253.6" cy="175.9" r="0.5"/><circle cx="309.4" cy="210.7" r="0.5"/><circle cx="287.0" cy="203.7" r="0.5"/><circle cx="306.0" cy="193.6" r="0.5"/><circle cx="279.3" cy="217.7" r="0.5"/><circle cx="310.6" cy="180.7" r="0.5"/><circle cx="278.8" cy="179.6" r="0.5"/><circle cx="282.7" cy="214.8" r="0.5"/><circle cx="315.8" cy="184.6" r="0.5"/><circle cx="310.0" cy="170.6" r="0.5"/><circle cx="276.2" cy="242.2" r="0.5"/><circle cx="310.7" cy="191.1" r="0.5"/><circle cx="242.6" cy="169.7" r="0.5"/><circle cx="258.5" cy="161.9" r="0.5"/><circle cx="282.8" cy="201.0" r="0.5"/><circle cx="312.8" cy="184.9" r="0.5"/><circle cx="289.2" cy="193.1" r="0.5"/><circle cx="237.4" cy="169.2" r="0.5"/><circle cx="282.4" cy="198.5" r="0.5"/><circle cx="284.6" cy="229.8" r="0.5"/><circle cx="278.9" cy="229.1" r="0.5"/><circle cx="291.8" cy="195.8" r="0.5"/><circle cx="281.8" cy="180.1" r="0.5"/><circle cx="276.8" cy="228.7" r="0.5"/><circle cx="240.3" cy="167.4" r="0.5"/><circle cx="296.1" cy="189.4" r="0.5"/><circle cx="280.7" cy="189.6" r="0.5"/><circle cx="276.4" cy="232.5" r="0.5"/><circle cx="284.7" cy="167.9" r="0.5"/><circle cx="280.0" cy="189.4" r="0.5"/><circle cx="317.8" cy="185.7" r="0.5"/><circle cx="286.8" cy="191.4" r="0.5"/><circle cx="302.2" cy="189.7" r="0.5"/><circle cx="293.5" cy="196.7" r="0.5"/><circle cx="293.4" cy="185.2" r="0.5"/><circle cx="283.5" cy="168.2" r="0.5"/><circle cx="279.0" cy="232.1" r="0.5"/><circle cx="278.1" cy="184.8" r="0.5"/><circle cx="327.3" cy="238.6" r="0.5"/><circle cx="281.0" cy="195.8" r="0.5"/><circle cx="278.2" cy="181.3" r="0.5"/><circle cx="250.6" cy="164.4" r="0.5"/><circle cx="274.2" cy="238.0" r="0.5"/><circle cx="253.7" cy="172.2" r="0.5"/><circle cx="283.8" cy="197.8" r="0.5"/><circle cx="286.0" cy="194.5" r="0.5"/><circle cx="285.1" cy="223.0" r="0.5"/><circle cx="242.1" cy="170.1" r="0.5"/><circle cx="236.2" cy="166.7" r="0.5"/><circle cx="242.7" cy="160.1" r="0.5"/><circle cx="292.4" cy="194.3" r="0.5"/><circle cx="307.3" cy="193.9" r="0.5"/><circle cx="312.5" cy="189.9" r="0.5"/><circle cx="256.9" cy="172.9" r="0.5"/><circle cx="295.9" cy="189.0" r="0.5"/><circle cx="287.0" cy="215.0" r="0.5"/><circle cx="241.7" cy="170.4" r="0.5"/><circle cx="282.4" cy="197.0" r="0.5"/><circle cx="299.5" cy="164.8" r="0.5"/><circle cx="305.3" cy="189.6" r="0.5"/><circle cx="300.2" cy="186.8" r="0.5"/><circle cx="282.3" cy="233.7" r="0.5"/><circle cx="270.3" cy="175.3" r="0.5"/><circle cx="237.5" cy="159.2" r="0.5"/><circle cx="246.8" cy="165.4" r="0.5"/><circle cx="287.7" cy="195.1" r="0.5"/><circle cx="280.1" cy="240.2" r="0.5"/><circle cx="264.9" cy="166.3" r="0.5"/><circle cx="288.1" cy="177.4" r="0.5"/><circle cx="277.7" cy="181.3" r="0.5"/><circle cx="265.4" cy="167.8" r="0.5"/><circle cx="314.1" cy="181.7" r="0.5"/><circle cx="276.2" cy="242.0" r="0.5"/><circle cx="279.8" cy="182.8" r="0.5"/><circle cx="264.5" cy="171.6" r="0.5"/></g>
<path clip-path="url(#cp2)" d="M232.5,187.2L232.8,186.8L233.2,186.3L233.4,186.0L233.5,185.7L233.8,185.0L234.0,184.7L234.2,184.2L234.4,183.7L234.5,183.3L234.8,182.7L234.9,182.3L235.2,181.8L235.4,181.3L235.6,181.0L235.8,180.5L236.1,180.0L236.3,179.7L236.5,179.3L236.8,178.8L237.1,178.3L237.4,178.0L237.6,177.7L237.8,177.1L238.0,176.7L238.0,176.0L237.8,175.6L237.6,175.0L237.5,174.5L237.4,174.0L237.5,173.3L237.6,173.0L237.8,172.6L238.2,172.3L238.8,172.2L239.5,172.3L239.8,172.5L240.2,172.8L240.5,173.2L240.8,173.7L241.0,174.0L241.2,174.4L241.5,174.8L242.2,174.9L242.7,174.7L243.2,174.4L243.5,174.2L243.8,174.0L244.3,173.7L244.7,173.3L245.2,173.0L245.5,172.8L245.8,172.6L246.5,172.3L246.8,172.2L247.5,172.1L248.2,172.1L248.8,172.3L249.2,172.5L249.5,172.8L249.8,173.1L250.2,173.5L250.5,173.9L250.8,174.3L251.1,174.7L251.5,175.0L251.8,175.3L252.2,175.6L252.5,175.9L252.8,176.1L253.3,176.3L253.8,176.5L254.2,176.7L254.8,176.8L255.5,176.9L256.2,176.9L256.8,176.8L257.5,176.7L257.8,176.6L258.5,176.4L258.8,176.3L259.5,176.2L260.2,176.0L260.5,176.0L261.2,175.9L261.8,175.9L262.5,175.9L263.2,176.0L263.5,176.0L264.2,176.2L264.7,176.3L265.2,176.5L265.6,176.7L266.2,176.9L266.5,177.0L267.1,177.3L267.5,177.5L268.0,177.7L268.5,177.8L269.2,178.0L269.5,178.0L270.2,178.1L270.8,178.1L271.5,178.1L272.2,178.2L272.5,178.3L273.1,178.7L273.5,179.0L273.8,179.3L274.1,179.7L274.2,180.0L274.5,180.5L274.7,181.0L274.9,181.3L275.2,182.0L275.4,182.3L275.6,182.7L275.9,183.0L276.2,183.3L276.6,183.7L277.0,184.0L277.4,184.3L277.7,184.7L278.1,185.0L278.3,185.3L278.6,185.7L278.8,186.0L279.2,186.6L279.3,187.0L279.5,187.4L279.7,188.0L279.8,188.7L279.8,189.3L279.8,189.7L279.8,190.3L279.9,191.0L279.9,191.7L280.0,192.3L280.0,193.0L280.0,193.7L279.9,194.3L279.8,194.7L279.7,195.3L279.5,196.0L279.4,196.3L279.3,197.0L279.2,197.5L279.1,198.0L279.0,198.7L278.9,199.3L278.9,200.0L278.8,200.7L278.8,201.3L278.9,202.0L278.9,202.7L278.9,203.3L278.9,204.0L278.9,204.7L278.8,205.0L278.7,205.7L278.6,206.3L278.5,207.0L278.5,207.3L278.5,208.0L278.5,208.5L278.6,209.0L278.7,209.7L278.8,210.0L279.0,210.7L279.2,211.0L279.4,211.7L279.5,212.2L279.6,212.7L279.6,213.3L279.5,213.7L279.3,214.3L279.2,214.7L278.9,215.3L278.7,215.7L278.5,216.1L278.2,216.7L278.1,217.0L277.8,217.6L277.7,218.0L277.5,218.7L277.5,219.0L277.5,219.7L277.5,220.3L277.5,220.9L277.5,221.3L277.6,222.0L277.7,222.7L277.7,223.3L277.7,224.0L277.6,224.7L277.5,225.0L277.3,225.7L277.2,226.2L277.0,226.7L276.8,227.1L276.6,227.7L276.5,228.0L276.2,228.7L276.1,229.0L275.9,229.7L275.8,230.2L275.8,230.7L275.8,231.3L275.8,232.0L275.7,232.7L275.7,233.3L275.5,234.0L275.4,234.3L275.2,235.0L275.1,235.3L274.8,235.8L274.5,236.3L274.3,236.7L274.1,237.0L273.8,237.4L273.5,237.8L273.2,238.1L272.8,238.4L272.5,238.7L272.1,239.0L271.5,239.3L271.2,239.5L270.8,239.7L270.4,240.0L269.9,240.3L269.6,240.7L269.3,241.0L269.1,241.3L268.8,241.9L268.7,242.3L268.5,243.0L268.4,243.3L268.2,244.0L268.1,244.3L267.9,245.0L267.8,245.3L267.5,245.9L267.3,246.3L267.2,246.7 M232.5,189.1L232.8,188.8L233.2,188.5L233.5,188.1L233.8,187.7L234.1,187.3L234.3,187.0L234.5,186.6L234.8,186.0L234.9,185.7L235.1,185.0L235.3,184.7L235.5,184.0L235.7,183.7L235.8,183.3L236.2,182.7L236.4,182.3L236.6,182.0L236.9,181.7L237.2,181.3L237.6,181.0L238.0,180.7L238.5,180.4L238.8,180.2L239.5,180.0L239.8,179.9L240.5,179.7L240.8,179.6L241.5,179.4L241.8,179.2L242.4,179.0L242.8,178.7L243.2,178.5L243.5,178.3L243.8,178.0L244.2,177.7L244.6,177.3L245.1,177.0L245.5,176.7L245.8,176.6L246.5,176.5L247.2,176.6L247.5,176.7L248.0,177.0L248.5,177.3L248.8,177.5L249.3,177.7L249.8,177.8L250.5,177.9L250.9,178.0L251.5,178.1L252.2,178.1L252.8,178.2L253.5,178.3L254.2,178.3L254.5,178.4L255.2,178.4L255.8,178.4L256.5,178.4L257.2,178.4L257.8,178.4L258.5,178.3L258.8,178.3L259.5,178.2L260.2,178.1L260.8,178.0L261.2,178.0L261.8,178.0L262.5,177.9L263.2,178.0L263.5,178.0L264.2,178.1L264.8,178.2L265.3,178.3L265.8,178.5L266.4,178.7L266.8,178.8L267.5,179.0L267.8,179.1L268.5,179.2L268.9,179.3L269.5,179.4L270.2,179.5L270.8,179.6L271.2,179.7L271.8,179.9L272.2,180.1L272.5,180.4L272.8,180.9L273.1,181.3L273.3,181.7L273.5,182.1L273.8,182.7L274.0,183.0L274.2,183.3L274.5,183.8L274.8,184.2L275.2,184.6L275.5,185.0L275.8,185.3L276.2,185.7L276.5,186.0L276.7,186.3L277.0,186.7L277.2,187.0L277.4,187.7L277.5,188.2L277.5,188.7L277.5,189.3L277.5,189.8L277.5,190.3L277.4,191.0L277.4,191.7L277.4,192.3L277.3,193.0L277.3,193.7L277.2,194.3L277.1,194.7L277.0,195.3L276.9,196.0L276.8,196.3L276.7,197.0L276.6,197.7L276.5,198.0L276.3,198.7L276.2,199.3L276.1,199.7L276.0,200.3L275.9,201.0L275.8,201.4L275.8,202.0L275.8,202.3L275.9,203.0L276.1,203.7L276.2,204.3L276.2,204.7L276.3,205.3L276.4,206.0L276.5,206.7L276.5,207.0L276.6,207.7L276.7,208.3L276.8,209.0L276.9,209.3L277.1,210.0L277.2,210.4L277.3,211.0L277.5,211.7L277.5,212.0L277.6,212.7L277.6,213.3L277.5,214.0L277.4,214.3L277.2,215.0L277.1,215.3L276.9,216.0L276.8,216.3L276.6,217.0L276.5,217.3L276.3,218.0L276.2,218.7L276.1,219.0L276.1,219.7L276.0,220.3L276.0,221.0L276.0,221.7L276.0,222.3L276.0,223.0L275.9,223.7L275.9,224.3L275.8,224.7L275.7,225.3L275.5,225.9L275.4,226.3L275.2,227.0L275.1,227.3L274.8,227.9L274.7,228.3L274.5,229.0L274.4,229.3L274.3,230.0L274.2,230.6L274.1,231.0L274.1,231.7L274.0,232.3L274.0,233.0L273.8,233.6L273.7,234.0L273.5,234.5L273.2,235.0L273.0,235.3L272.7,235.7L272.4,236.0L272.0,236.3L271.6,236.7L271.2,237.0L270.8,237.2L270.5,237.4L270.0,237.7L269.5,238.0L269.2,238.2L268.8,238.4L268.5,238.7L268.1,239.0L267.8,239.3L267.5,239.7L267.2,240.3L267.0,240.7L266.8,241.2L266.7,241.7L266.6,242.3L266.5,242.7L266.3,243.3L266.2,244.0L266.0,244.3L265.8,244.9L265.7,245.3L265.5,245.7L265.2,246.3L265.0,246.7L264.8,247.0 M232.5,190.7L232.8,190.5L233.2,190.2L233.5,190.0L233.8,189.7L234.2,189.3L234.5,189.0L234.8,188.5L235.1,188.0L235.3,187.7L235.5,187.2L235.7,186.7L235.9,186.3L236.1,185.7L236.2,185.3L236.5,184.7L236.6,184.3L236.8,183.9L237.2,183.4L237.4,183.0L237.8,182.7L238.1,182.3L238.5,182.1L238.8,181.9L239.4,181.7L239.8,181.5L240.3,181.3L240.8,181.2L241.5,181.0L241.8,180.9L242.5,180.7L242.8,180.6L243.5,180.3L243.8,180.2L244.5,180.0L244.8,179.9L245.5,179.8L246.2,179.8L246.8,179.9L247.5,180.0L247.8,180.0L248.5,180.1L249.2,180.1L249.8,180.1L250.5,180.0L250.8,180.0L251.5,179.9L252.2,179.8L252.8,179.7L253.5,179.7L254.2,179.7L254.8,179.7L255.5,179.7L256.2,179.7L256.8,179.8L257.5,179.8L258.2,179.8L258.8,179.8L259.5,179.7L260.0,179.7L260.5,179.6L261.2,179.5L261.8,179.5L262.5,179.4L263.2,179.5L263.8,179.5L264.5,179.6L264.9,179.7L265.5,179.8L266.2,180.0L266.5,180.1L267.2,180.2L267.5,180.3L268.2,180.5L268.6,180.7L269.2,180.9L269.6,181.0L270.2,181.2L270.5,181.4L271.0,181.7L271.4,182.0L271.7,182.3L272.0,182.7L272.2,183.0L272.5,183.3L272.8,183.8L273.2,184.2L273.5,184.7L273.7,185.0L273.9,185.3L274.2,185.7L274.5,186.2L274.8,186.7L274.9,187.0L275.2,187.6L275.3,188.0L275.5,188.7L275.5,189.0L275.6,189.7L275.6,190.3L275.7,191.0L275.7,191.7L275.7,192.3L275.7,193.0L275.6,193.7L275.5,194.2L275.4,194.7L275.2,195.2L275.0,195.7L274.8,196.0L274.5,196.7L274.3,197.0L274.2,197.4L273.9,198.0L273.8,198.3L273.6,199.0L273.5,199.3L273.4,200.0L273.3,200.7L273.3,201.3L273.2,202.0L273.3,202.7L273.3,203.3L273.5,204.0L273.5,204.3L273.7,205.0L273.8,205.4L274.0,206.0L274.2,206.6L274.3,207.0L274.4,207.7L274.5,208.0L274.7,208.7L274.8,209.3L274.9,209.7L275.2,210.3L275.3,210.7L275.4,211.3L275.5,211.7L275.7,212.3L275.7,213.0L275.8,213.7L275.7,214.3L275.6,215.0L275.5,215.5L275.4,216.0L275.2,216.7L275.1,217.0L275.0,217.7L274.8,218.2L274.8,218.7L274.7,219.3L274.6,220.0L274.5,220.7L274.5,221.0L274.4,221.7L274.4,222.3L274.3,223.0L274.2,223.7L274.1,224.0L274.0,224.7L273.9,225.3L273.8,225.7L273.7,226.3L273.5,227.0L273.4,227.3L273.2,228.0L273.2,228.3L273.0,229.0L272.8,229.7L272.8,230.0L272.7,230.7L272.5,231.3L272.5,231.7L272.3,232.3L272.2,232.8L271.9,233.3L271.7,233.7L271.4,234.0L271.0,234.3L270.6,234.7L270.2,235.0L269.8,235.2L269.5,235.4L269.2,235.7L268.7,236.0L268.2,236.3L267.8,236.5L267.5,236.7L267.1,237.0L266.7,237.3L266.2,237.7L265.8,238.0L265.5,238.3L265.2,238.6L264.8,238.8L264.5,239.1L264.1,239.3L263.5,239.7L263.2,239.8L262.6,240.0L262.2,240.2L261.8,240.4L261.5,240.8L261.2,241.3L261.2,241.8L261.1,242.3L261.2,242.9L261.2,243.3L261.2,244.0L261.1,244.3L260.9,245.0L260.7,245.3L260.4,245.7L260.1,246.0L259.7,246.3L259.3,246.7L259.0,247.0 M232.5,240.3L232.8,239.7L232.9,239.3L233.2,238.8L233.3,238.3L233.5,237.9L233.7,237.3L233.8,236.7L233.8,236.0L233.7,235.3L233.5,234.9L233.2,234.3L232.9,234.0L232.6,233.7 M234.4,247.0L234.1,246.7L233.8,246.3L233.5,245.9L233.2,245.4L232.8,245.0L232.6,244.7 M232.5,192.7L232.8,192.4L233.2,192.1L233.5,191.9L233.8,191.7L234.3,191.3L234.8,191.0L235.1,190.7L235.4,190.3L235.6,190.0L235.8,189.7L236.2,189.0L236.3,188.7L236.5,188.2L236.7,187.7L236.8,187.3L237.1,186.7L237.2,186.3L237.4,185.7L237.6,185.3L237.8,184.8L238.1,184.3L238.4,184.0L238.7,183.7L239.1,183.3L239.5,183.1L239.8,182.9L240.4,182.7L240.8,182.5L241.3,182.3L241.8,182.2L242.4,182.0L242.8,181.9L243.5,181.7L243.8,181.6L244.5,181.5L245.2,181.4L245.8,181.4L246.5,181.4L247.2,181.5L247.8,181.5L248.5,181.5L249.2,181.5L249.8,181.4L250.4,181.3L250.8,181.3L251.5,181.1L252.2,181.0L252.5,181.0L253.2,180.9L253.8,180.8L254.5,180.8L255.2,180.8L255.8,180.8L256.5,180.9L257.2,180.9L257.8,181.0L258.5,181.0L259.2,181.0L259.8,180.9L260.5,180.8L261.2,180.8L261.8,180.7L262.5,180.7L263.2,180.7L263.8,180.8L264.5,180.9L264.9,181.0L265.5,181.1L266.2,181.3L266.5,181.4L267.2,181.6L267.5,181.7L268.2,182.0L268.5,182.1L268.9,182.3L269.5,182.6L269.8,182.8L270.2,183.0L270.6,183.3L271.0,183.7L271.3,184.0L271.6,184.3L271.9,184.7L272.2,185.0L272.5,185.4L272.8,185.9L273.1,186.3L273.2,186.7L273.5,187.3L273.6,187.7L273.8,188.3L273.8,188.7L274.0,189.3L274.1,190.0L274.2,190.6L274.2,191.0L274.3,191.7L274.3,192.3L274.3,193.0L274.2,193.7L274.1,194.0L273.8,194.6L273.6,195.0L273.4,195.3L273.2,195.7L272.8,196.2L272.5,196.7L272.3,197.0L272.1,197.3L271.8,197.8L271.6,198.3L271.5,198.8L271.4,199.3L271.3,200.0L271.3,200.7L271.3,201.3L271.2,202.0L271.2,202.7L271.2,203.0L271.2,203.3L271.2,204.0L271.3,204.7L271.5,205.3L271.5,205.7L271.7,206.3L271.8,207.0L271.9,207.3L271.9,208.0L272.0,208.7L272.2,209.3L272.3,209.7L272.5,210.2L272.7,210.7L272.9,211.0L273.2,211.4L273.5,212.0L273.6,212.3L273.8,213.0L273.9,213.3L274.0,214.0L274.0,214.7L273.9,215.3L273.8,215.7L273.7,216.3L273.6,217.0L273.5,217.3L273.3,218.0L273.2,218.7L273.2,219.1L273.1,219.7L273.0,220.3L273.0,221.0L272.9,221.7L272.8,222.0L272.7,222.7L272.6,223.3L272.5,224.0L272.4,224.3L272.3,225.0L272.2,225.7L272.1,226.0L272.0,226.7L271.9,227.3L271.8,227.7L271.7,228.3L271.5,229.0L271.4,229.3L271.2,230.0L271.1,230.3L270.9,231.0L270.7,231.3L270.5,231.7L270.2,232.2L269.8,232.6L269.5,232.9L269.2,233.2L268.8,233.5L268.5,233.8L268.2,234.0L267.8,234.3L267.3,234.7L266.8,235.0L266.5,235.2L266.2,235.4L265.8,235.7L265.2,236.0L264.8,236.2L264.5,236.4L263.9,236.7L263.5,236.8L263.0,237.0L262.5,237.1L261.8,237.2L261.2,237.2L260.5,237.2L259.8,237.2L259.4,237.3L258.9,237.7L258.7,238.0L258.6,238.7L258.6,239.3L258.6,240.0L258.7,240.7L258.7,241.3L258.7,242.0L258.7,242.7L258.7,243.3L258.5,243.9L258.3,244.3L258.1,244.7L257.8,245.0L257.5,245.3L257.1,245.7L256.6,246.0L256.2,246.3L255.8,246.4L255.2,246.6L254.8,246.7L254.2,246.8L253.5,246.9L252.8,246.9L252.2,246.9L251.5,246.9L250.8,246.9L250.2,246.9L249.5,247.0 M232.5,206.7L232.7,206.3L232.8,205.9L233.1,205.3L233.2,205.0L233.4,204.3L233.5,203.7L233.5,203.0L233.4,202.3L233.2,201.7L233.0,201.3L232.8,201.0L232.5,200.5 M236.4,247.0L236.2,246.6L235.8,246.1L235.6,245.7L235.3,245.3L235.1,245.0L234.8,244.6L234.5,244.0L234.4,243.7L234.2,243.0L234.1,242.7L234.1,242.0L234.2,241.7L234.3,241.0L234.5,240.4L234.7,240.0L234.8,239.6L235.1,239.0L235.3,238.7L235.5,238.1L235.7,237.7L235.8,237.2L236.0,236.7L236.2,236.0L236.2,235.7L236.3,235.0L236.4,234.3L236.5,233.7L236.5,233.3L236.5,232.7L236.6,232.0L236.6,231.3L236.7,230.7L236.8,230.1L236.9,229.7L236.8,229.0L236.8,228.7L236.6,228.0L236.4,227.7L236.2,227.3L235.8,226.9L235.5,226.5L235.2,226.1L234.8,225.7L234.6,225.3L234.4,225.0L234.2,224.3L234.1,224.0L234.0,223.3L234.0,222.7L234.0,222.0L234.1,221.3L234.2,221.0L234.2,220.3L234.3,219.7L234.3,219.0L234.3,218.3L234.3,217.7L234.3,217.0L234.3,216.3L234.3,215.7L234.4,215.0L234.5,214.5L234.5,214.0L234.5,213.3L234.5,213.0L234.3,212.3L234.1,212.0L233.8,211.5L233.5,211.0L233.3,210.7L233.1,210.3L232.8,209.9L232.5,209.3 M237.9,247.0L237.8,246.7L237.5,246.1L237.3,245.7L237.2,245.3L236.8,244.7L236.6,244.3L236.5,244.0L236.2,243.3L236.1,243.0L236.0,242.3L236.0,241.7L236.2,241.0L236.3,240.7L236.5,240.2L236.8,239.7L236.9,239.3L237.2,238.8L237.4,238.3L237.5,238.0L237.7,237.3L237.8,236.8L237.9,236.3L238.1,235.7L238.2,235.3L238.4,234.7L238.5,234.3L238.8,233.7L238.9,233.3L239.2,232.8L239.4,232.3L239.6,232.0L239.8,231.5L240.0,231.0L240.2,230.3L240.1,229.7L239.9,229.0L239.7,228.7L239.5,228.3L239.2,227.8L238.9,227.3L238.7,227.0L238.4,226.7L238.2,226.3L237.8,225.9L237.5,225.5L237.2,225.1L236.9,224.7L236.6,224.3L236.4,224.0L236.2,223.4L236.0,223.0L235.9,222.3L235.8,221.9L235.8,221.3L235.8,220.7L235.8,220.0L235.8,219.4L235.8,219.0L235.9,218.3L235.9,217.7L236.0,217.0L236.0,216.3L236.2,215.7L236.2,215.3L236.4,214.7L236.5,214.0L236.5,213.3L236.3,212.7L236.2,212.2L235.9,211.7L235.7,211.3L235.5,211.0L235.2,210.6L234.8,210.1L234.5,209.7L234.4,209.3L234.2,208.8L234.0,208.3L234.0,207.7L234.1,207.0L234.2,206.7L234.4,206.0L234.5,205.7L234.7,205.0L234.8,204.5L234.9,204.0L234.9,203.3L234.9,202.7L234.8,202.2L234.7,201.7L234.5,201.0L234.4,200.7L234.2,200.2L233.9,199.7L233.8,199.3L233.5,198.9L233.2,198.3L233.1,198.0L232.9,197.3L232.8,197.0L232.8,196.3L232.9,196.0L233.1,195.3L233.2,195.0L233.5,194.6L233.8,194.3L234.2,194.0L234.8,193.7L235.2,193.5L235.7,193.3L236.2,193.1L236.5,193.0L236.9,192.7L237.2,192.3L237.5,191.8L237.6,191.3L237.8,190.7L237.8,190.1L237.9,189.7L238.0,189.0L238.2,188.5L238.3,188.0L238.5,187.4L238.6,187.0L238.8,186.5L239.1,186.0L239.2,185.7L239.5,185.2L239.8,184.8L240.2,184.5L240.5,184.3L240.9,184.0L241.5,183.7L241.8,183.5L242.4,183.3L242.8,183.2L243.4,183.0L243.8,182.9L244.5,182.8L245.2,182.7L245.5,182.6L246.2,182.6L246.8,182.6L247.5,182.7L248.2,182.7L248.8,182.6L249.5,182.6L250.2,182.5L250.8,182.3L251.2,182.3L251.8,182.2L252.5,182.0L252.8,182.0L253.5,181.9L254.2,181.8L254.8,181.8L255.5,181.8L256.2,181.9L256.8,181.9L257.5,182.0L257.8,182.0L258.5,182.0L259.2,182.0L259.8,182.0L260.2,182.0L260.8,182.0L261.5,181.9L262.2,181.9L262.8,182.0L263.2,182.0L263.8,182.1L264.5,182.3L264.8,182.3L265.5,182.5L266.1,182.7L266.5,182.8L267.2,183.0L267.5,183.1L268.0,183.3L268.5,183.5L268.8,183.7L269.3,184.0L269.8,184.3L270.2,184.6L270.5,184.9L270.8,185.2L271.2,185.6L271.5,186.0L271.7,186.3L271.9,186.7L272.2,187.3L272.3,187.7L272.4,188.3L272.5,188.8L272.6,189.3L272.7,190.0L272.8,190.7L272.8,191.3L272.9,191.7L272.9,192.3L272.8,192.7L272.7,193.3L272.5,193.8L272.2,194.3L272.0,194.7L271.7,195.0L271.4,195.3L271.0,195.7L270.7,196.0L270.4,196.3L270.1,196.7L269.8,197.0L269.5,197.4L269.2,197.9L268.9,198.3L268.7,198.7L268.5,199.1L268.2,199.7L268.1,200.0L267.9,200.7L267.8,201.0L267.8,201.7L267.8,202.3L267.9,202.7L268.0,203.3L268.2,203.7L268.5,204.3L268.6,204.7L268.8,205.1L269.1,205.7L269.2,206.0L269.4,206.7L269.5,207.0L269.6,207.7L269.7,208.3L269.7,209.0L269.7,209.7L269.7,210.3L269.8,210.8L270.0,211.3L270.2,211.7L270.5,212.2L270.8,212.6L271.1,213.0L271.3,213.3L271.5,213.7L271.8,214.3L271.8,214.7L271.9,215.3L271.8,216.0L271.8,216.3L271.7,217.0L271.6,217.7L271.5,218.3L271.5,218.7L271.5,219.3L271.4,220.0L271.4,220.7L271.4,221.3L271.3,222.0L271.2,222.7L271.2,223.0L271.1,223.7L270.9,224.3L270.8,224.9L270.7,225.3L270.6,226.0L270.5,226.7L270.4,227.0L270.3,227.7L270.2,228.2L270.0,228.7L269.8,229.2L269.6,229.7L269.4,230.0L269.2,230.4L268.8,230.9L268.5,231.3L268.2,231.7L267.9,232.0L267.5,232.3L267.2,232.7L266.8,233.0L266.5,233.2L266.2,233.5L265.8,233.7L265.3,234.0L264.8,234.2L264.5,234.4L263.8,234.6L263.5,234.7L262.8,234.9L262.2,235.0L261.5,235.0L260.8,234.9L260.2,234.9L259.5,234.8L258.8,234.9L258.2,234.9L257.8,235.0L257.2,235.3L256.8,235.4L256.5,235.7L256.1,236.0L255.8,236.4L255.6,237.0L255.5,237.7L255.6,238.3L255.8,239.0L255.9,239.3L256.1,240.0L256.2,240.3L256.4,241.0L256.5,241.6L256.5,242.0L256.5,242.3L256.3,243.0L256.2,243.4L255.8,243.8L255.5,244.0L254.9,244.3L254.5,244.5L253.8,244.6L253.5,244.7L252.8,244.7L252.2,244.7L251.5,244.7L250.8,244.8L250.2,244.8L249.5,244.9L248.8,244.9L248.5,245.0L247.8,245.2L247.3,245.3L246.8,245.5L246.5,245.7L246.0,246.0L245.6,246.3L245.3,246.7L245.0,247.0 M239.5,247.0L239.2,246.4L239.0,246.0L238.8,245.4L238.7,245.0L238.5,244.3L238.4,244.0L238.3,243.3L238.2,242.8L238.1,242.3L238.2,241.8L238.3,241.3L238.5,240.7L238.6,240.3L238.8,239.8L239.0,239.3L239.2,238.9L239.3,238.3L239.4,237.7L239.5,237.2L239.6,236.7L239.7,236.0L239.8,235.5L240.0,235.0L240.2,234.6L240.5,234.0L240.7,233.7L241.0,233.3L241.2,233.0L241.5,232.7L241.9,232.3L242.2,232.0L242.6,231.7L242.9,231.3L243.2,231.0L243.5,230.4L243.6,230.0L243.5,229.6L243.2,229.0L242.8,228.7L242.5,228.4L242.2,228.1L241.8,227.8L241.5,227.6L241.2,227.3L240.8,227.0L240.5,226.7L240.2,226.3L239.8,226.0L239.5,225.6L239.2,225.2L238.8,224.8L238.5,224.3L238.3,224.0L238.1,223.7L237.8,223.2L237.6,222.7L237.5,222.2L237.4,221.7L237.3,221.0L237.3,220.3L237.3,219.7L237.4,219.0L237.4,218.3L237.5,217.9L237.6,217.3L237.7,216.7L237.8,216.2L238.0,215.7L238.1,215.0L238.2,214.5L238.2,214.0L238.2,213.3L238.1,213.0L238.0,212.3L237.8,212.0L237.5,211.4L237.3,211.0L237.0,210.7L236.8,210.3L236.5,209.9L236.2,209.4L235.9,209.0L235.8,208.7L235.7,208.0L235.7,207.3L235.8,206.7L235.9,206.3L236.1,205.7L236.2,205.2L236.3,204.7L236.4,204.0L236.4,203.3L236.4,202.7L236.4,202.0L236.4,201.3L236.3,200.7L236.2,200.1L236.1,199.7L235.9,199.0L235.8,198.6L235.8,198.0L235.8,197.3L235.9,197.0L236.2,196.7L236.6,196.3L237.2,196.1L237.5,196.0L238.2,195.7L238.5,195.6L239.0,195.3L239.5,195.0L239.8,194.7L240.0,194.3L240.2,194.0L240.3,193.3L240.3,192.7L240.3,192.0L240.2,191.3L240.1,191.0L240.1,190.3L240.1,189.7L240.1,189.0L240.2,188.7L240.4,188.0L240.6,187.7L240.8,187.1L241.0,186.7L241.2,186.3L241.5,186.0L241.8,185.6L242.2,185.3L242.5,185.0L243.0,184.7L243.5,184.4L243.8,184.3L244.5,184.1L244.9,184.0L245.5,183.9L246.2,183.8L246.8,183.8L247.5,183.8L248.2,183.7L248.8,183.7L249.2,183.6L249.8,183.5L250.5,183.4L251.0,183.3L251.5,183.2L252.2,183.1L252.8,183.0L253.2,182.9L253.8,182.9L254.5,182.8L255.2,182.8L255.8,182.8L256.5,182.9L257.2,182.9L257.8,183.0L258.2,183.0L258.8,183.1L259.5,183.1L260.2,183.1L260.8,183.1L261.5,183.1L262.2,183.2L262.8,183.3L263.2,183.3L263.8,183.5L264.5,183.6L264.8,183.7L265.5,183.9L266.1,184.0L266.5,184.1L267.2,184.3L267.5,184.4L268.2,184.7L268.5,184.8L268.8,185.0L269.3,185.3L269.7,185.7L270.1,186.0L270.3,186.3L270.6,186.7L270.8,187.2L271.0,187.7L271.2,188.3L271.2,188.7L271.3,189.3L271.3,190.0L271.3,190.7L271.3,191.3L271.2,192.0L271.1,192.3L270.9,193.0L270.7,193.3L270.4,193.7L270.1,194.0L269.8,194.3L269.5,194.7L269.2,195.0L268.8,195.3L268.5,195.7L268.2,196.0L267.8,196.4L267.5,196.8L267.2,197.2L266.8,197.5L266.5,197.9L266.2,198.3L265.9,198.7L265.6,199.0L265.5,199.3L265.2,200.0L265.2,200.4L265.1,201.0L265.2,201.7L265.2,202.0L265.3,202.7L265.4,203.3L265.5,203.9L265.6,204.3L265.8,204.8L266.2,205.3L266.4,205.7L266.7,206.0L266.9,206.3L267.2,206.7L267.5,207.3L267.6,207.7L267.8,208.3L267.8,208.8L267.9,209.3L267.9,210.0L267.9,210.7L267.9,211.3L268.0,212.0L268.1,212.7L268.2,213.2L268.3,213.7L268.4,214.3L268.5,214.7L268.6,215.3L268.6,216.0L268.6,216.7L268.6,217.3L268.7,218.0L268.8,218.7L268.9,219.0L269.1,219.7L269.2,220.0L269.4,220.7L269.5,221.3L269.5,221.7L269.5,222.3L269.5,223.0L269.5,223.3L269.4,224.0L269.3,224.7L269.2,225.3L269.1,225.7L269.0,226.3L268.9,227.0L268.8,227.3L268.6,228.0L268.4,228.3L268.2,228.9L267.9,229.3L267.7,229.7L267.5,230.0L267.2,230.4L266.8,230.8L266.5,231.2L266.2,231.5L265.8,231.8L265.5,232.0L265.0,232.3L264.5,232.6L264.2,232.7L263.5,232.9L263.0,233.0L262.5,233.1L261.8,233.1L261.2,233.1L260.5,233.2L259.8,233.2L259.2,233.2L258.5,233.3L258.1,233.3L257.5,233.4L256.8,233.6L256.4,233.7L255.8,233.8L255.2,234.0L254.8,234.1L254.3,234.3L253.8,234.6L253.5,234.9L253.2,235.2L252.8,235.6L252.6,236.0L252.5,236.5L252.4,237.0L252.5,237.6L252.6,238.0L252.8,238.7L252.9,239.0L253.1,239.7L253.2,240.0L253.3,240.7L253.3,241.3L253.1,241.7L252.8,242.0L252.4,242.3L251.8,242.5L251.2,242.7L250.8,242.7L250.2,242.8L249.5,242.9L248.9,243.0L248.5,243.1L247.8,243.2L247.3,243.3L246.8,243.5L246.2,243.7L245.8,243.9L245.5,244.0L245.1,244.3L244.8,244.7L244.5,245.0L244.2,245.4L243.8,246.0L243.6,246.3L243.4,246.7L243.1,247.0 M262.8,231.4L262.2,231.4L261.5,231.5L260.8,231.5L260.2,231.5L259.5,231.5L258.8,231.5L258.2,231.5L257.5,231.5L256.8,231.5L256.2,231.4L255.8,231.3L255.2,231.1L254.8,230.9L254.5,230.7L253.9,230.3L253.5,230.1L253.2,229.9L252.5,229.7L252.2,229.6L251.5,229.4L251.2,229.3L250.6,229.0L250.3,228.7L250.0,228.3L249.8,228.0L249.6,227.3L249.5,227.0L249.3,226.3L249.2,226.0L248.9,225.3L248.6,225.0L248.3,224.7L247.8,224.5L247.2,224.4L246.5,224.5L246.1,224.7L245.5,225.0L245.2,225.1L244.8,225.3L244.2,225.6L243.8,225.7L243.2,225.8L242.5,225.7L242.2,225.5L241.7,225.3L241.2,225.0L240.8,224.7L240.5,224.4L240.2,224.0L239.9,223.7L239.7,223.3L239.5,223.0L239.2,222.3L239.2,222.0L239.0,221.3L239.0,220.7L239.1,220.0L239.2,219.3L239.2,219.0L239.4,218.3L239.5,217.8L239.6,217.3L239.7,216.7L239.8,216.0L239.9,215.7L239.9,215.0L239.9,214.3L239.8,213.7L239.8,213.3L239.7,212.7L239.5,212.0L239.4,211.7L239.2,211.1L239.0,210.7L238.8,210.3L238.5,209.8L238.2,209.3L238.1,209.0L237.8,208.4L237.8,208.0L237.8,207.3L237.8,207.0L238.0,206.3L238.2,206.0L238.4,205.3L238.5,204.7L238.5,204.3L238.6,203.7L238.6,203.0L238.7,202.3L238.8,201.7L238.9,201.3L239.2,200.7L239.4,200.3L239.6,200.0L239.9,199.7L240.2,199.3L240.5,199.0L240.8,198.6L241.2,198.3L241.5,197.9L241.8,197.4L242.1,197.0L242.2,196.7L242.5,196.0L242.6,195.7L242.7,195.0L242.7,194.3L242.6,193.7L242.5,193.0L242.5,192.7L242.3,192.0L242.2,191.4L242.1,191.0L242.0,190.3L242.0,189.7L242.2,189.0L242.3,188.7L242.5,188.1L242.7,187.7L242.9,187.3L243.2,187.0L243.5,186.6L243.8,186.3L244.2,186.0L244.7,185.7L245.2,185.5L245.5,185.3L246.2,185.2L246.8,185.0L247.2,185.0L247.8,184.9L248.5,184.8L249.2,184.7L249.5,184.7L250.2,184.5L250.8,184.4L251.3,184.3L251.8,184.2L252.5,184.1L253.1,184.0L253.5,183.9L254.2,183.9L254.8,183.8L255.5,183.8L256.2,183.9L256.8,183.9L257.5,184.0L257.8,184.0L258.5,184.1L259.2,184.1L259.8,184.2L260.5,184.2L261.2,184.3L261.5,184.3L262.2,184.4L262.8,184.6L263.2,184.7L263.8,184.8L264.5,184.9L264.8,185.0L265.5,185.1L266.2,185.2L266.6,185.3L267.2,185.5L267.7,185.7L268.2,185.9L268.5,186.1L268.8,186.4L269.2,186.8L269.5,187.3L269.7,187.7L269.8,188.3L269.9,188.7L269.9,189.3L269.8,190.0L269.8,190.3L269.7,191.0L269.5,191.7L269.4,192.0L269.2,192.4L268.8,193.0L268.6,193.3L268.3,193.7L268.0,194.0L267.7,194.3L267.4,194.7L267.1,195.0L266.7,195.3L266.4,195.7L266.0,196.0L265.6,196.3L265.2,196.7L264.8,196.9L264.5,197.1L264.1,197.3L263.6,197.7L263.2,197.9L262.8,198.2L262.6,198.7L262.6,199.3L262.8,200.0L262.9,200.3L263.1,201.0L263.2,201.3L263.4,202.0L263.5,202.6L263.5,203.0L263.6,203.7L263.7,204.3L263.8,205.0L263.9,205.3L264.2,206.0L264.4,206.3L264.6,206.7L264.9,207.0L265.2,207.4L265.5,207.8L265.8,208.3L266.0,208.7L266.2,209.3L266.2,209.7L266.3,210.3L266.3,211.0L266.2,211.7L266.2,212.3L266.2,212.7L266.1,213.3L266.0,214.0L265.9,214.7L265.8,215.0L265.7,215.7L265.6,216.3L265.5,216.9L265.5,217.3L265.4,218.0L265.5,218.5L265.6,219.0L265.8,219.6L266.1,220.0L266.3,220.3L266.5,220.7L266.8,221.1L267.1,221.7L267.3,222.0L267.5,222.6L267.6,223.0L267.7,223.7L267.7,224.3L267.6,225.0L267.6,225.7L267.5,226.0L267.3,226.7L267.2,227.2L267.0,227.7L266.8,228.1L266.6,228.7L266.4,229.0L266.1,229.3L265.8,229.7L265.5,230.1L265.2,230.4L264.8,230.7L264.2,231.0L263.8,231.1L263.2,231.3L262.8,231.4 M250.5,193.3L250.8,193.0L251.0,192.7L251.2,192.3L251.2,191.7L251.2,191.3L250.8,190.7L250.5,190.4L250.2,190.2L249.5,190.1L248.9,190.3L248.6,190.7L248.4,191.0L248.2,191.7L248.3,192.3L248.5,192.9L248.8,193.3L249.2,193.5L249.8,193.6L250.5,193.3 M247.7,208.3L248.1,208.0L248.3,207.7L248.5,207.3L248.6,206.7L248.5,206.0L248.4,205.7L248.2,205.2L247.8,204.8L247.5,204.5L247.2,204.3L246.7,204.3L246.2,204.6L245.8,204.8L245.5,205.2L245.2,205.6L245.0,206.0L244.8,206.4L244.8,207.0L244.9,207.3L245.2,207.8L245.5,208.1L245.9,208.3L246.5,208.5L247.2,208.5L247.7,208.3 M243.8,241.7L243.2,241.7L242.7,241.7L242.3,241.3L242.2,240.7L242.2,240.0L242.3,239.3L242.4,238.7L242.5,238.0L242.5,237.7L242.7,237.0L242.9,236.7L243.5,236.6L243.8,236.8L244.2,237.0L244.7,237.3L245.2,237.5L245.8,237.7L246.2,237.8L246.8,238.0L247.2,238.2L247.5,238.4L247.8,238.7L248.2,239.1L248.3,239.7L248.2,240.2L247.8,240.6L247.5,240.8L247.2,241.0L246.5,241.3L246.2,241.4L245.5,241.5L244.8,241.6L244.2,241.6L243.8,241.7 M263.8,195.4L263.2,195.5L262.5,195.6L261.8,195.5L261.2,195.4L260.6,195.3L260.2,195.2L259.5,195.1L258.8,195.0L258.5,195.0L257.8,194.8L257.2,194.7L256.8,194.6L256.2,194.4L255.8,194.3L255.2,194.1L254.8,194.0L254.2,193.8L253.8,193.6L253.4,193.3L253.1,193.0L252.8,192.4L252.7,192.0L252.5,191.6L252.2,191.0L252.1,190.7L251.8,190.3L251.5,189.9L251.2,189.5L250.8,189.3L250.4,189.0L249.8,188.8L249.2,188.8L248.5,189.0L248.2,189.2L247.8,189.5L247.5,189.9L247.2,190.3L247.0,190.7L246.8,191.1L246.6,191.7L246.4,192.0L246.2,192.4L245.8,192.7L245.3,192.7L244.8,192.4L244.6,192.0L244.4,191.7L244.2,191.2L244.0,190.7L244.0,190.0L244.1,189.3L244.2,189.0L244.5,188.3L244.7,188.0L245.0,187.7L245.4,187.3L245.8,187.0L246.2,186.9L246.6,186.7L247.2,186.5L247.8,186.3L248.2,186.3L248.8,186.1L249.3,186.0L249.8,185.9L250.5,185.7L250.8,185.7L251.5,185.5L252.2,185.4L252.5,185.3L253.2,185.2L253.8,185.1L254.5,185.0L254.8,185.0L255.5,185.0L256.2,185.0L256.5,185.0L257.2,185.1L257.8,185.1L258.5,185.2L259.2,185.2L259.8,185.3L260.2,185.3L260.8,185.5L261.5,185.6L261.8,185.7L262.5,185.9L262.8,186.0L263.5,186.2L263.8,186.3L264.5,186.5L265.2,186.6L265.5,186.7L266.2,186.8L266.8,187.0L267.2,187.2L267.5,187.5L267.8,188.0L267.9,188.3L267.8,188.7L267.7,189.3L267.7,190.0L267.8,190.7L267.7,191.3L267.6,192.0L267.4,192.3L267.2,192.7L266.8,193.2L266.5,193.6L266.2,193.9L265.8,194.2L265.5,194.5L265.2,194.7L264.7,195.0L264.2,195.2L263.8,195.4 M263.2,229.8L262.5,229.9L261.8,229.9L261.2,229.9L260.5,229.8L259.9,229.7L259.5,229.6L258.8,229.4L258.5,229.3L257.8,229.0L257.5,228.9L257.1,228.7L256.5,228.4L256.2,228.2L255.8,228.0L255.2,227.7L254.8,227.5L254.5,227.3L253.9,227.0L253.5,226.8L253.2,226.5L252.8,226.2L252.5,225.8L252.2,225.3L252.1,225.0L251.8,224.3L251.7,224.0L251.5,223.3L251.4,223.0L251.2,222.5L250.8,222.1L250.5,221.7L250.2,221.5L249.8,221.3L249.2,221.0L248.8,220.9L248.2,220.8L247.5,220.7L246.8,220.8L246.2,220.9L245.8,221.0L245.3,221.3L244.8,221.6L244.5,221.9L244.2,222.1L243.8,222.3L243.2,222.6L242.5,222.5L242.2,222.3L241.8,221.7L241.8,221.3L241.8,221.0L242.2,220.3L242.4,220.0L242.7,219.7L242.9,219.3L243.1,218.7L243.0,218.0L242.8,217.5L242.6,217.0L242.5,216.7L242.2,216.0L242.1,215.7L241.9,215.0L241.8,214.7L241.7,214.0L241.5,213.3L241.5,213.0L241.4,212.3L241.2,211.7L241.1,211.3L241.0,210.7L240.9,210.0L241.1,209.3L241.4,209.0L241.6,209.0L242.0,209.3L242.2,209.7L242.5,210.0L242.8,210.4L243.5,210.7L243.8,210.8L244.5,210.9L244.9,211.0L245.5,211.1L246.2,211.2L246.8,211.2L247.5,211.2L248.2,211.1L248.5,210.9L248.9,210.7L249.4,210.3L249.7,210.0L249.9,209.7L250.2,209.3L250.5,208.7L250.6,208.3L250.8,207.7L250.8,207.3L250.9,206.7L250.9,206.0L250.9,205.3L251.0,204.7L251.0,204.0L251.2,203.5L251.5,203.0L251.8,202.8L252.2,202.6L252.8,202.5L253.5,202.5L254.2,202.5L254.8,202.5L255.5,202.4L255.8,202.3L256.5,202.1L256.8,201.9L257.5,201.7L257.8,201.6L258.5,201.4L259.2,201.4L259.8,201.5L260.3,201.7L260.8,202.0L261.1,202.3L261.3,202.7L261.5,203.3L261.6,203.7L261.6,204.3L261.7,205.0L261.8,205.4L262.0,206.0L262.2,206.3L262.5,207.0L262.7,207.3L263.0,207.7L263.2,208.0L263.5,208.4L263.8,208.8L264.1,209.3L264.3,209.7L264.5,210.3L264.5,210.7L264.5,211.3L264.5,212.0L264.5,212.3L264.4,213.0L264.3,213.7L264.2,214.3L264.1,214.7L264.0,215.3L263.9,216.0L263.8,216.5L263.7,217.0L263.6,217.7L263.5,218.0L263.4,218.7L263.3,219.3L263.4,220.0L263.5,220.4L263.8,221.0L264.1,221.3L264.4,221.7L264.7,222.0L265.0,222.3L265.3,222.7L265.5,223.0L265.8,223.7L265.9,224.0L266.0,224.7L266.0,225.3L265.9,226.0L265.8,226.5L265.7,227.0L265.5,227.5L265.3,228.0L265.1,228.3L264.8,228.7L264.5,229.0L264.1,229.3L263.5,229.6L263.2,229.8 M261.5,224.3L261.8,223.9L261.9,223.3L261.6,223.0L261.2,222.8L260.6,223.0L260.2,223.3L260.1,223.7L260.2,224.3L260.5,224.5L261.2,224.5L261.5,224.3 M263.2,193.7L262.5,193.7L262.1,193.7L261.5,193.6L260.8,193.4L260.5,193.3L259.8,193.1L259.4,193.0L258.8,192.8L258.3,192.7L257.8,192.5L257.2,192.4L256.8,192.3L256.2,192.1L255.8,192.0L255.2,191.8L254.8,191.7L254.2,191.3L253.8,191.1L253.5,190.8L253.2,190.4L252.8,190.0L252.6,189.7L252.4,189.3L252.1,189.0L251.8,188.4L251.7,188.0L251.8,187.5L252.2,187.1L252.5,186.9L253.1,186.7L253.5,186.6L254.2,186.4L254.8,186.3L255.2,186.3L255.8,186.3L256.5,186.3L257.2,186.3L257.5,186.4L258.2,186.4L258.8,186.6L259.3,186.7L259.8,186.9L260.2,187.1L260.4,187.7L260.3,188.3L260.2,189.0L260.2,189.3L260.2,189.7L260.5,190.1L260.8,190.4L261.4,190.7L261.8,190.8L262.5,190.8L263.2,190.9L263.8,191.0L264.2,191.1L264.6,191.3L265.0,191.7L265.2,192.0L265.2,192.3L264.8,192.9L264.5,193.2L264.2,193.4L263.5,193.6L263.2,193.7 M256.2,223.7L255.8,223.7L255.2,223.5L254.8,223.3L254.4,223.0L254.1,222.7L253.8,222.3L253.5,222.0L253.2,221.6L252.8,221.2L252.5,220.9L252.2,220.5L251.8,220.2L251.5,219.9L251.2,219.6L250.8,219.3L250.3,219.0L249.9,218.7L249.5,218.4L249.2,218.1L248.8,217.8L248.5,217.5L248.2,217.2L247.8,216.8L247.5,216.4L247.2,216.0L247.0,215.7L246.8,215.0L246.8,215.0L247.2,214.5L247.5,214.3L248.0,214.0L248.5,213.8L248.8,213.6L249.2,213.3L249.6,213.0L250.0,212.7L250.3,212.3L250.6,212.0L250.9,211.7L251.2,211.3L251.5,210.8L251.8,210.3L251.9,210.0L252.2,209.3L252.3,209.0L252.5,208.3L252.6,208.0L252.8,207.3L252.9,207.0L253.2,206.6L253.5,206.1L253.8,205.8L254.2,205.6L254.8,205.4L255.4,205.3L255.8,205.3L256.5,205.3L257.2,205.3L257.7,205.3L258.2,205.4L258.8,205.7L259.2,205.8L259.5,206.1L259.8,206.4L260.2,206.8L260.5,207.2L260.8,207.7L261.0,208.0L261.3,208.3L261.5,208.7L261.8,209.3L262.0,209.7L262.2,210.0L262.4,210.7L262.5,211.1L262.6,211.7L262.6,212.3L262.6,213.0L262.5,213.7L262.5,214.1L262.4,214.7L262.3,215.3L262.2,216.0L262.1,216.3L261.8,216.9L261.6,217.3L261.5,217.7L261.2,218.1L260.8,218.7L260.6,219.0L260.4,219.3L260.1,219.7L259.8,220.1L259.5,220.6L259.2,221.0L259.0,221.3L258.8,221.7L258.5,222.0L258.2,222.4L257.8,222.8L257.5,223.1L257.2,223.4L256.5,223.6L256.2,223.7 M262.5,228.4L261.8,228.4L261.2,228.3L260.8,228.2L260.3,228.0L259.9,227.7L259.6,227.3L259.4,227.0L259.4,226.3L259.8,226.0L260.2,225.8L260.5,225.7L261.2,225.4L261.5,225.3L262.2,225.1L262.5,225.0L263.2,224.7L263.8,224.8L264.2,225.2L264.3,225.7L264.3,226.3L264.2,226.8L263.9,227.3L263.7,227.7L263.3,228.0L262.8,228.2L262.5,228.4 M256.5,189.8L255.8,189.9L255.2,189.8L254.6,189.7L254.2,189.4L253.8,189.1L253.8,188.7L254.1,188.3L254.5,188.2L255.2,188.0L255.8,188.0L256.5,188.2L256.8,188.4L257.2,189.0L256.8,189.6L256.5,189.8 M256.2,220.1L255.5,220.2L254.8,220.1L254.5,220.0L253.9,219.7L253.5,219.4L253.2,219.1L252.8,218.8L252.5,218.5L252.2,218.2L251.8,217.8L251.5,217.3L251.3,217.0L251.2,216.5L251.1,216.0L251.2,215.5L251.3,215.0L251.5,214.7L251.8,214.2L252.2,213.9L252.7,213.7L253.2,213.6L253.6,213.7L254.2,213.7L254.6,213.7L255.2,213.5L255.5,213.3L255.8,212.7L255.8,212.3L255.8,212.0L255.8,211.3L255.5,210.7L255.3,210.3L255.0,210.0L254.8,209.7L254.7,209.0L254.8,208.5L255.2,208.1L255.5,207.8L255.9,207.7L256.5,207.5L257.2,207.6L257.6,207.7L258.2,207.9L258.5,208.1L258.9,208.3L259.2,208.7L259.5,209.0L259.8,209.6L260.0,210.0L260.2,210.3L260.4,211.0L260.5,211.7L260.5,212.0L260.5,212.7L260.5,213.0L260.4,213.7L260.3,214.3L260.2,214.7L259.9,215.3L259.7,215.7L259.5,216.1L259.2,216.6L258.9,217.0L258.6,217.3L258.4,217.7L258.1,218.0L257.8,218.4L257.5,218.9L257.2,219.3L256.8,219.6L256.5,219.9L256.2,220.1" fill="none" stroke="#484848" stroke-width="0.7"/>
<path d="M302.3,168.4 C292.3,166.9 287.8,171.9 288.8,177.9 C289.8,183.9 295.3,187.9 303.3,186.9" fill="none" stroke="#777" stroke-width="0.6"/>
<path d="M301.3,169.2 C294.3,168.4 290.3,172.9 290.8,177.9 C291.3,182.9 296.3,186.9 302.3,186.4" fill="none" stroke="#888" stroke-width="0.6"/>
<ellipse cx="300.3" cy="177.9" rx="7.6" ry="7.8" fill="none" stroke="#333" stroke-width="0.9"/>
<ellipse cx="300.3" cy="177.9" rx="7.0" ry="7.2" fill="none" stroke="#111" stroke-width="1.0"/>
<ellipse cx="300.3" cy="177.9" rx="6.3" ry="6.5" fill="none" stroke="#111" stroke-width="1.1"/>
<ellipse cx="300.3" cy="177.9" rx="5.6" ry="5.8" fill="none" stroke="#111" stroke-width="1.1"/>
<ellipse cx="300.3" cy="177.9" rx="4.9" ry="5.0" fill="none" stroke="#111" stroke-width="1.1"/>
<ellipse cx="300.3" cy="177.9" rx="4.1" ry="4.2" fill="none" stroke="#222" stroke-width="0.9"/>
<ellipse cx="300.3" cy="177.9" rx="3.4" ry="3.4" fill="none" stroke="#555" stroke-width="0.6"/>
<rect x="235.5" y="148.0" width="96.2" height="95.9" fill="none" stroke="#222" stroke-width="1.1"/>
<rect x="280.6" y="159.6" width="33.3" height="49.4" fill="none" stroke="#222" stroke-width="1.1"/>
<text x="311.5" y="207.6" font-size="8.6" font-weight="bold" text-anchor="end">18.0</text>
<path d="M235.5,239.9 L239.5,243.9 L235.5,243.9Z" fill="#444"/>
<path d="M233.7,157.0h1.8M233.7,179.0h1.8M233.7,190.0h1.8M233.7,196.0h1.8M233.7,200.0h1.8M233.7,202.0h1.8M233.7,204.0h1.8M233.7,211.0h1.8M233.7,220.0h1.8M233.7,225.0h1.8M233.7,228.0h1.8M233.7,230.0h1.8M233.7,232.0h1.8M244.5,243.9v2M245.5,243.9v2M246.5,243.9v2M247.5,243.9v2M248.5,243.9v2M250.0,243.9v2M251.5,243.9v2M253.0,243.9v2M254.5,243.9v2M262.5,243.9v2M270.5,243.9v2M276.5,243.9v2M281.5,243.9v2M287.5,243.9v2M293.5,243.9v2M299.5,243.9v2M304.5,243.9v2M310.5,243.9v2M316.5,243.9v2M321.5,243.9v2M327.5,243.9v2" stroke="#222" stroke-width="0.8" fill="none"/>
<text transform="translate(18.6,197.3) rotate(-90)" font-size="10.5" text-anchor="middle" font-weight="bold">Ly6C</text>
<text x="28.9" y="256.3" font-size="10.3" text-anchor="start" font-weight="bold" font-style="normal" >CD64</text>
<line x1="58.1" y1="253.9" x2="322.5" y2="253.9" stroke="#000" stroke-width="1.5" />
<path d="M321.2,251.6 L328.2,253.9 L321.2,256.2 Z" fill="#000"/>
<g transform="translate(79.6,0) scale(0.9,1) translate(-79.6,0)"><text x="79.6" y="144.3" font-size="10.6" font-weight="bold" font-style="italic" text-anchor="middle">T<tspan font-size="6.0" dy="-3.59">Prf1+</tspan><tspan dy="3.59">NK</tspan><tspan font-size="6.0" dy="-3.59">Prf1+</tspan></text></g>
<g transform="translate(182.5,0) scale(0.9,1) translate(-182.5,0)"><text x="182.5" y="144.4" font-size="10.6" font-weight="bold" font-style="italic" text-anchor="middle">T<tspan font-size="6.0" dy="-3.59">Prf1-</tspan><tspan dy="3.59">NK</tspan><tspan font-size="6.0" dy="-3.59">Prf1-</tspan></text></g>
<g transform="translate(284.2,0) scale(0.9,1) translate(-284.2,0)"><text x="284.2" y="144.4" font-size="10.6" font-weight="bold" font-style="italic" text-anchor="middle">T<tspan font-size="6.0" dy="-3.59">Prf1-</tspan><tspan dy="3.59">NK</tspan><tspan font-size="6.0" dy="-3.59">Prf1+</tspan></text></g>
<line x1="401.6" y1="232.1" x2="401.6" y2="225.5" stroke="#000" stroke-width="1.3" />
<line x1="397.3" y1="225.5" x2="407.2" y2="225.5" stroke="#000" stroke-width="1.4" />
<rect x="392.3" y="232.1" width="18.6" height="10.4" fill="#000"/>
<line x1="428.25" y1="192.3" x2="428.25" y2="161.2" stroke="#000" stroke-width="1.3" />
<line x1="423.5" y1="161.2" x2="432.9" y2="161.2" stroke="#000" stroke-width="1.4" />
<rect x="419.2" y="192.3" width="18.1" height="50.2" fill="#fff" stroke="#000" stroke-width="1.5"/>
<line x1="455.05" y1="229.9" x2="455.05" y2="219.6" stroke="#979797" stroke-width="1.3" />
<line x1="451" y1="219.6" x2="460.2" y2="219.6" stroke="#979797" stroke-width="1.4" />
<rect x="446" y="229.9" width="18.1" height="12.6" fill="#979797"/>
<line x1="388.5" y1="151.9" x2="388.5" y2="243.2" stroke="#000" stroke-width="1.5" />
<line x1="387.8" y1="242.5" x2="467.8" y2="242.5" stroke="#000" stroke-width="1.5" />
<line x1="385.9" y1="242.5" x2="388.5" y2="242.5" stroke="#000" stroke-width="1.4" />
<text x="384.4" y="245.79" font-size="9.2" text-anchor="end" font-weight="bold" font-style="normal" >0</text>
<line x1="385.9" y1="212.6" x2="388.5" y2="212.6" stroke="#000" stroke-width="1.4" />
<text x="384.4" y="215.89" font-size="9.2" text-anchor="end" font-weight="bold" font-style="normal" >2</text>
<line x1="385.9" y1="182.6" x2="388.5" y2="182.6" stroke="#000" stroke-width="1.4" />
<text x="384.4" y="185.89" font-size="9.2" text-anchor="end" font-weight="bold" font-style="normal" >4</text>
<line x1="385.9" y1="152.6" x2="388.5" y2="152.6" stroke="#000" stroke-width="1.4" />
<text x="384.4" y="155.89" font-size="9.2" text-anchor="end" font-weight="bold" font-style="normal" >6</text>
<text transform="translate(371.3,197.55) rotate(-90)" font-size="10.1" text-anchor="middle" font-weight="bold">CD64<tspan font-size="6.5" dy="-3.6">+</tspan><tspan dy="3.6"> Ly6C</tspan><tspan font-size="6.5" dy="-3.6">+</tspan><tspan dy="3.6"> (*10</tspan><tspan font-size="6.5" dy="-3.6">6</tspan><tspan dy="3.6">)</tspan></text>
<circle cx="425.45" cy="154.8" r="1.7" fill="#000"/>
<circle cx="430.35" cy="154.8" r="1.7" fill="#000"/>
<rect x="455.4" y="140.5" width="10.8" height="5.9" fill="#000"/>
<text x="471.5" y="146.2" font-size="9.0" font-weight="bold" font-style="italic" text-anchor="start">T<tspan font-size="5.3" dy="-2.95">Prf1+</tspan><tspan dy="2.95">NK</tspan><tspan font-size="5.3" dy="-2.95">Prf1+</tspan></text>
<rect x="456.1" y="152.2" width="9.4" height="3.7" fill="#fff" stroke="#000" stroke-width="1.4"/>
<text x="471.5" y="156.4" font-size="9.0" font-weight="bold" font-style="italic" text-anchor="start">T<tspan font-size="5.3" dy="-2.95">Prf1-</tspan><tspan dy="2.95">NK</tspan><tspan font-size="5.3" dy="-2.95">Prf1-</tspan></text>
<rect x="455.4" y="161.6" width="10.8" height="5.8" fill="#979797"/>
<text x="471.5" y="167.2" font-size="9.0" font-weight="bold" font-style="italic" text-anchor="start">T<tspan font-size="5.3" dy="-2.95">Prf1-</tspan><tspan dy="2.95">NK</tspan><tspan font-size="5.3" dy="-2.95">Prf1+</tspan></text>
<line x1="43.5" y1="363.4" x2="122.7" y2="363.4" stroke="#000" stroke-width="1.3" stroke-dasharray="4,2.5"/>
<line x1="160.5" y1="363.6" x2="241.5" y2="363.6" stroke="#000" stroke-width="1.3" stroke-dasharray="4,2.5"/>
<line x1="56.2" y1="364.4" x2="56.2" y2="362.3" stroke="#000" stroke-width="1.3" />
<line x1="51.9" y1="362.3" x2="60.8" y2="362.3" stroke="#000" stroke-width="1.4" />
<rect x="47" y="364.4" width="18.4" height="14.2" fill="#000"/>
<line x1="82.83" y1="317.1" x2="82.83" y2="300.8" stroke="#000" stroke-width="1.3" />
<line x1="77.5" y1="300.8" x2="87.3" y2="300.8" stroke="#000" stroke-width="1.4" />
<rect x="73.75" y="317.1" width="18.15" height="61.5" fill="#fff" stroke="#000" stroke-width="1.5"/>
<line x1="109.5" y1="347.7" x2="109.5" y2="340.4" stroke="#979797" stroke-width="1.3" />
<line x1="105" y1="340.4" x2="115" y2="340.4" stroke="#979797" stroke-width="1.4" />
<rect x="99.8" y="347.7" width="19.4" height="30.9" fill="#979797"/>
<line x1="43.2" y1="287.8" x2="43.2" y2="379.3" stroke="#000" stroke-width="1.5" />
<line x1="42.5" y1="378.6" x2="122" y2="378.6" stroke="#000" stroke-width="1.5" />
<line x1="40.3" y1="378.6" x2="43.2" y2="378.6" stroke="#000" stroke-width="1.4" />
<text x="39.1" y="381.93" font-size="9.3" text-anchor="end" font-weight="bold" font-style="normal" >0</text>
<line x1="40.3" y1="356.1" x2="43.2" y2="356.1" stroke="#000" stroke-width="1.4" />
<text x="39.1" y="359.43" font-size="9.3" text-anchor="end" font-weight="bold" font-style="normal" >200</text>
<line x1="40.3" y1="333.6" x2="43.2" y2="333.6" stroke="#000" stroke-width="1.4" />
<text x="39.1" y="336.93" font-size="9.3" text-anchor="end" font-weight="bold" font-style="normal" >400</text>
<line x1="40.3" y1="311.1" x2="43.2" y2="311.1" stroke="#000" stroke-width="1.4" />
<text x="39.1" y="314.43" font-size="9.3" text-anchor="end" font-weight="bold" font-style="normal" >600</text>
<line x1="40.3" y1="288.5" x2="43.2" y2="288.5" stroke="#000" stroke-width="1.4" />
<text x="39.1" y="291.83" font-size="9.3" text-anchor="end" font-weight="bold" font-style="normal" >800</text>
<text transform="translate(20,332.3) rotate(-90)" font-size="9.5" text-anchor="middle" font-weight="bold">ALAT (U/L)</text>
<circle cx="82.5" cy="295" r="1.75" fill="#000"/>
<line x1="173.9" y1="363.75" x2="173.9" y2="360.8" stroke="#000" stroke-width="1.3" />
<line x1="169.2" y1="360.8" x2="178.3" y2="360.8" stroke="#000" stroke-width="1.4" />
<rect x="164.3" y="363.75" width="19.2" height="15.05" fill="#000"/>
<line x1="200.75" y1="315" x2="200.75" y2="300.2" stroke="#000" stroke-width="1.3" />
<line x1="195.6" y1="300.2" x2="205.4" y2="300.2" stroke="#000" stroke-width="1.4" />
<rect x="191.9" y="315" width="17.7" height="63.8" fill="#fff" stroke="#000" stroke-width="1.5"/>
<line x1="227.07" y1="346.7" x2="227.07" y2="336.7" stroke="#979797" stroke-width="1.3" />
<line x1="222.7" y1="336.7" x2="231.7" y2="336.7" stroke="#979797" stroke-width="1.4" />
<rect x="217.9" y="346.7" width="18.35" height="32.1" fill="#979797"/>
<line x1="160.5" y1="287.8" x2="160.5" y2="379.5" stroke="#000" stroke-width="1.5" />
<line x1="159.8" y1="378.8" x2="241" y2="378.8" stroke="#000" stroke-width="1.5" />
<line x1="157.9" y1="378.8" x2="160.5" y2="378.8" stroke="#000" stroke-width="1.4" />
<text x="156.1" y="382.02" font-size="9.0" text-anchor="end" font-weight="bold" font-style="normal" >0</text>
<line x1="157.9" y1="348.7" x2="160.5" y2="348.7" stroke="#000" stroke-width="1.4" />
<text x="156.1" y="351.92" font-size="9.0" text-anchor="end" font-weight="bold" font-style="normal" >500</text>
<line x1="157.9" y1="318.6" x2="160.5" y2="318.6" stroke="#000" stroke-width="1.4" />
<text x="156.1" y="321.82" font-size="9.0" text-anchor="end" font-weight="bold" font-style="normal" >1000</text>
<line x1="157.9" y1="288.5" x2="160.5" y2="288.5" stroke="#000" stroke-width="1.4" />
<text x="156.1" y="291.72" font-size="9.0" text-anchor="end" font-weight="bold" font-style="normal" >1500</text>
<text transform="translate(135,332.9) rotate(-90)" font-size="9.7" text-anchor="middle" font-weight="bold">ASAT (U/L)</text>
<circle cx="200.4" cy="294.6" r="1.75" fill="#000"/>
<rect x="241.1" y="279.7" width="10.7" height="4.9" fill="#000"/>
<text x="257.2" y="284.4" font-size="9.0" font-weight="bold" font-style="italic" text-anchor="start">T<tspan font-size="5.3" dy="-2.95">Prf1+</tspan><tspan dy="2.95">NK</tspan><tspan font-size="5.3" dy="-2.95">Prf1+</tspan></text>
<rect x="241.8" y="290.2" width="9.3" height="4.1" fill="#fff" stroke="#000" stroke-width="1.4"/>
<text x="257.2" y="294.8" font-size="9.0" font-weight="bold" font-style="italic" text-anchor="start">T<tspan font-size="5.3" dy="-2.95">Prf1-</tspan><tspan dy="2.95">NK</tspan><tspan font-size="5.3" dy="-2.95">Prf1-</tspan></text>
<rect x="241.1" y="300.3" width="10.7" height="5" fill="#979797"/>
<text x="257.2" y="305.1" font-size="9.0" font-weight="bold" font-style="italic" text-anchor="start">T<tspan font-size="5.3" dy="-2.95">Prf1-</tspan><tspan dy="2.95">NK</tspan><tspan font-size="5.3" dy="-2.95">Prf1+</tspan></text>
<line x1="403.2" y1="373.1" x2="403.2" y2="370.6" stroke="#000" stroke-width="1.3" />
<line x1="399.6" y1="370.6" x2="407.5" y2="370.6" stroke="#000" stroke-width="1.4" />
<rect x="394.7" y="373.1" width="17" height="5.7" fill="#000"/>
<line x1="427.18" y1="323.1" x2="427.18" y2="309.2" stroke="#000" stroke-width="1.3" />
<line x1="422.5" y1="309.2" x2="431.25" y2="309.2" stroke="#000" stroke-width="1.4" />
<rect x="418.75" y="323.1" width="16.85" height="55.7" fill="#fff" stroke="#000" stroke-width="1.5"/>
<line x1="450.95" y1="327.9" x2="450.95" y2="312.7" stroke="#979797" stroke-width="1.3" />
<line x1="446.5" y1="312.7" x2="455.8" y2="312.7" stroke="#979797" stroke-width="1.4" />
<rect x="442.3" y="327.9" width="17.3" height="50.9" fill="#979797"/>
<line x1="390.9" y1="287.5" x2="390.9" y2="379.5" stroke="#000" stroke-width="1.5" />
<line x1="390.2" y1="378.8" x2="463.1" y2="378.8" stroke="#000" stroke-width="1.5" />
<line x1="387.9" y1="378.8" x2="390.9" y2="378.8" stroke="#000" stroke-width="1.4" />
<text x="385.6" y="381.88" font-size="8.6" text-anchor="end" font-weight="bold" font-style="normal" >0</text>
<line x1="387.9" y1="348.7" x2="390.9" y2="348.7" stroke="#000" stroke-width="1.4" />
<text x="385.6" y="351.78" font-size="8.6" text-anchor="end" font-weight="bold" font-style="normal" >5000</text>
<line x1="387.9" y1="318.5" x2="390.9" y2="318.5" stroke="#000" stroke-width="1.4" />
<text x="385.6" y="321.58" font-size="8.6" text-anchor="end" font-weight="bold" font-style="normal" >10000</text>
<line x1="387.9" y1="288.2" x2="390.9" y2="288.2" stroke="#000" stroke-width="1.4" />
<text x="385.6" y="291.28" font-size="8.6" text-anchor="end" font-weight="bold" font-style="normal" >15000</text>
<text transform="translate(355.2,332.7) rotate(-90)" font-size="9.8" text-anchor="middle" font-weight="bold">IFN-γ (pg/mL)</text>
<circle cx="403.3" cy="363.75" r="1.75" fill="#000"/>
<rect x="458.3" y="279.5" width="9.9" height="5" fill="#000"/>
<text x="474.2" y="284.3" font-size="9.0" font-weight="bold" font-style="italic" text-anchor="start">T<tspan font-size="5.3" dy="-2.95">Prf1+</tspan><tspan dy="2.95">NK</tspan><tspan font-size="5.3" dy="-2.95">Prf1+</tspan></text>
<rect x="459" y="289.9" width="8.5" height="4.3" fill="#fff" stroke="#000" stroke-width="1.4"/>
<text x="474.2" y="294.7" font-size="9.0" font-weight="bold" font-style="italic" text-anchor="start">T<tspan font-size="5.3" dy="-2.95">Prf1-</tspan><tspan dy="2.95">NK</tspan><tspan font-size="5.3" dy="-2.95">Prf1-</tspan></text>
<rect x="458.3" y="300.3" width="9.9" height="5.2" fill="#979797"/>
<text x="474.2" y="305.3" font-size="9.0" font-weight="bold" font-style="italic" text-anchor="start">T<tspan font-size="5.3" dy="-2.95">Prf1-</tspan><tspan dy="2.95">NK</tspan><tspan font-size="5.3" dy="-2.95">Prf1+</tspan></text>
<rect x="47.5" y="490.4" width="17" height="10.4" fill="#000"/>
<line x1="80.95" y1="449.5" x2="80.95" y2="431.6" stroke="#000" stroke-width="1.3" />
<line x1="75.2" y1="431.6" x2="84.5" y2="431.6" stroke="#000" stroke-width="1.4" />
<rect x="72.8" y="449.5" width="16.3" height="51.3" fill="#fff" stroke="#000" stroke-width="1.5"/>
<line x1="104.75" y1="458.4" x2="104.75" y2="454.7" stroke="#979797" stroke-width="1.3" />
<line x1="98" y1="454.7" x2="108.9" y2="454.7" stroke="#979797" stroke-width="1.4" />
<rect x="96.5" y="458.4" width="16.5" height="42.4" fill="#979797"/>
<line x1="44" y1="410" x2="44" y2="501.5" stroke="#000" stroke-width="1.5" />
<line x1="43.3" y1="500.8" x2="116.5" y2="500.8" stroke="#000" stroke-width="1.5" />
<line x1="41.4" y1="500.8" x2="44" y2="500.8" stroke="#000" stroke-width="1.4" />
<text x="38.6" y="504.02" font-size="9.0" text-anchor="end" font-weight="bold" font-style="normal" >0</text>
<line x1="41.4" y1="471.1" x2="44" y2="471.1" stroke="#000" stroke-width="1.4" />
<text x="38.6" y="474.32" font-size="9.0" text-anchor="end" font-weight="bold" font-style="normal" >500</text>
<line x1="41.4" y1="440.9" x2="44" y2="440.9" stroke="#000" stroke-width="1.4" />
<text x="38.6" y="444.12" font-size="9.0" text-anchor="end" font-weight="bold" font-style="normal" >1000</text>
<line x1="41.4" y1="410.7" x2="44" y2="410.7" stroke="#000" stroke-width="1.4" />
<text x="38.6" y="413.92" font-size="9.0" text-anchor="end" font-weight="bold" font-style="normal" >1500</text>
<text transform="translate(14.8,459.5) rotate(-90)" font-size="10.3" text-anchor="middle" font-weight="bold">IL-6 (pg/mL)</text>
<circle cx="55.8" cy="482.1" r="1.75" fill="#000"/>
<rect x="164.6" y="477.5" width="17.2" height="23.4" fill="#000"/>
<line x1="196.8" y1="443.7" x2="196.8" y2="431.4" stroke="#000" stroke-width="1.3" />
<line x1="192.1" y1="431.4" x2="201.4" y2="431.4" stroke="#000" stroke-width="1.4" />
<rect x="188" y="443.7" width="17.6" height="57.2" fill="#fff" stroke="#000" stroke-width="1.5"/>
<line x1="220.7" y1="437.1" x2="220.7" y2="425.8" stroke="#979797" stroke-width="1.3" />
<line x1="216.5" y1="425.8" x2="225.8" y2="425.8" stroke="#979797" stroke-width="1.4" />
<rect x="211.7" y="437.1" width="18" height="63.8" fill="#979797"/>
<line x1="160.9" y1="410.3" x2="160.9" y2="501.6" stroke="#000" stroke-width="1.5" />
<line x1="160.2" y1="500.9" x2="231.4" y2="500.9" stroke="#000" stroke-width="1.5" />
<line x1="158.3" y1="500.9" x2="160.9" y2="500.9" stroke="#000" stroke-width="1.4" />
<text x="156.5" y="503.91" font-size="8.4" text-anchor="end" font-weight="bold" font-style="normal" >0</text>
<line x1="158.3" y1="483.1" x2="160.9" y2="483.1" stroke="#000" stroke-width="1.4" />
<text x="156.5" y="486.11" font-size="8.4" text-anchor="end" font-weight="bold" font-style="normal" >2000</text>
<line x1="158.3" y1="465.2" x2="160.9" y2="465.2" stroke="#000" stroke-width="1.4" />
<text x="156.5" y="468.21" font-size="8.4" text-anchor="end" font-weight="bold" font-style="normal" >4000</text>
<line x1="158.3" y1="447.1" x2="160.9" y2="447.1" stroke="#000" stroke-width="1.4" />
<text x="156.5" y="450.11" font-size="8.4" text-anchor="end" font-weight="bold" font-style="normal" >6000</text>
<line x1="158.3" y1="429" x2="160.9" y2="429" stroke="#000" stroke-width="1.4" />
<text x="156.5" y="432.01" font-size="8.4" text-anchor="end" font-weight="bold" font-style="normal" >8000</text>
<line x1="158.3" y1="411" x2="160.9" y2="411" stroke="#000" stroke-width="1.4" />
<text x="156.5" y="414.01" font-size="8.4" text-anchor="end" font-weight="bold" font-style="normal" >10000</text>
<text transform="translate(129.1,457.75) rotate(-90)" font-size="10.1" text-anchor="middle" font-weight="bold">CCL2 (pg/mL)</text>
<circle cx="171.1" cy="469.3" r="1.45" fill="#000"/>
<circle cx="175" cy="469.3" r="1.45" fill="#000"/>
<line x1="278.05" y1="495.6" x2="278.05" y2="493.5" stroke="#000" stroke-width="1.3" />
<line x1="275" y1="493.5" x2="282.6" y2="493.5" stroke="#000" stroke-width="1.4" />
<rect x="269.6" y="495.6" width="16.9" height="5.3" fill="#000"/>
<line x1="302.4" y1="446.5" x2="302.4" y2="421.4" stroke="#000" stroke-width="1.3" />
<line x1="298.2" y1="421.4" x2="306.4" y2="421.4" stroke="#000" stroke-width="1.4" />
<rect x="294.5" y="446.5" width="15.8" height="54.4" fill="#fff" stroke="#000" stroke-width="1.5"/>
<line x1="326.25" y1="467.2" x2="326.25" y2="464.1" stroke="#979797" stroke-width="1.3" />
<line x1="322.7" y1="464.1" x2="330.5" y2="464.1" stroke="#979797" stroke-width="1.4" />
<rect x="318.2" y="467.2" width="16.1" height="33.7" fill="#979797"/>
<line x1="266.2" y1="409.9" x2="266.2" y2="501.6" stroke="#000" stroke-width="1.5" />
<line x1="265.5" y1="500.9" x2="338.1" y2="500.9" stroke="#000" stroke-width="1.5" />
<line x1="263.6" y1="500.9" x2="266.2" y2="500.9" stroke="#000" stroke-width="1.4" />
<text x="262.1" y="504.12" font-size="9.0" text-anchor="end" font-weight="bold" font-style="normal" >0</text>
<line x1="263.6" y1="471.1" x2="266.2" y2="471.1" stroke="#000" stroke-width="1.4" />
<text x="262.1" y="474.32" font-size="9.0" text-anchor="end" font-weight="bold" font-style="normal" >50</text>
<line x1="263.6" y1="441.1" x2="266.2" y2="441.1" stroke="#000" stroke-width="1.4" />
<text x="262.1" y="444.32" font-size="9.0" text-anchor="end" font-weight="bold" font-style="normal" >100</text>
<line x1="263.6" y1="410.6" x2="266.2" y2="410.6" stroke="#000" stroke-width="1.4" />
<text x="262.1" y="413.82" font-size="9.0" text-anchor="end" font-weight="bold" font-style="normal" >150</text>
<text transform="translate(243.8,457.75) rotate(-90)" font-size="9.5" text-anchor="middle" font-weight="bold">CCL5 (pg/mL)</text>
<circle cx="278.5" cy="484.3" r="1.75" fill="#000"/>
<rect x="322.7" y="406.7" width="11.2" height="5.1" fill="#000"/>
<text x="338.2" y="411.6" font-size="9.0" font-weight="bold" font-style="italic" text-anchor="start">T<tspan font-size="5.3" dy="-2.95">Prf1+</tspan><tspan dy="2.95">NK</tspan><tspan font-size="5.3" dy="-2.95">Prf1+</tspan></text>
<rect x="323.4" y="417.9" width="9.8" height="3.6" fill="#fff" stroke="#000" stroke-width="1.4"/>
<text x="338.2" y="422" font-size="9.0" font-weight="bold" font-style="italic" text-anchor="start">T<tspan font-size="5.3" dy="-2.95">Prf1-</tspan><tspan dy="2.95">NK</tspan><tspan font-size="5.3" dy="-2.95">Prf1-</tspan></text>
<rect x="322.7" y="427.6" width="11.2" height="5.4" fill="#979797"/>
<text x="338.2" y="432.8" font-size="9.0" font-weight="bold" font-style="italic" text-anchor="start">T<tspan font-size="5.3" dy="-2.95">Prf1-</tspan><tspan dy="2.95">NK</tspan><tspan font-size="5.3" dy="-2.95">Prf1+</tspan></text>
</svg>
</body></html>
